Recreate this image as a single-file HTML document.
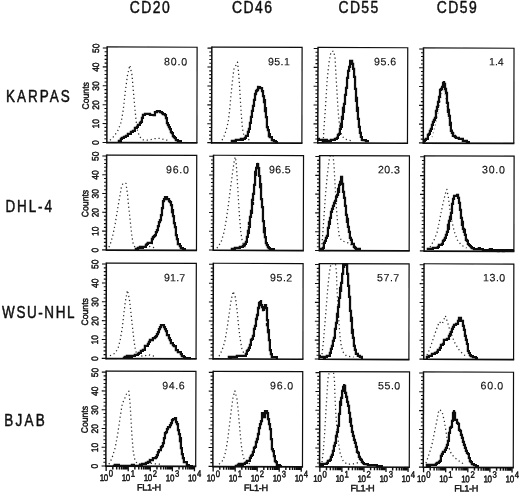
<!DOCTYPE html>
<html><head><meta charset="utf-8"><title>Figure</title>
<style>
html,body{margin:0;padding:0;background:#fff;}
body{width:520px;height:493px;position:relative;overflow:hidden;font-family:"Liberation Sans",sans-serif;}
</style></head><body>
<svg width="520" height="493" viewBox="0 0 520 493" style="position:absolute;left:0;top:0" font-family="'Liberation Sans', sans-serif" fill="#0d0d0d">
<rect x="0" y="0" width="520" height="493" fill="#fff"/>
<defs><filter id="soft" x="0" y="0" width="520" height="493" filterUnits="userSpaceOnUse"><feGaussianBlur stdDeviation="0.32"/></filter></defs>
<g filter="url(#soft)">
<text transform="translate(129.8 13.4) scale(0.93 1.055)" font-size="15" textLength="43.0" lengthAdjust="spacing" stroke="#0d0d0d" stroke-width="0.42" stroke-linejoin="round">CD20</text>
<text transform="translate(232.0 13.4) scale(0.93 1.055)" font-size="15" textLength="42.9" lengthAdjust="spacing" stroke="#0d0d0d" stroke-width="0.42" stroke-linejoin="round">CD46</text>
<text transform="translate(338.5 13.4) scale(0.93 1.055)" font-size="15" textLength="42.7" lengthAdjust="spacing" stroke="#0d0d0d" stroke-width="0.42" stroke-linejoin="round">CD55</text>
<text transform="translate(436.7 13.4) scale(0.93 1.055)" font-size="15" textLength="43.0" lengthAdjust="spacing" stroke="#0d0d0d" stroke-width="0.42" stroke-linejoin="round">CD59</text>
<text transform="translate(5.9 102.1) scale(0.9 1.055)" font-size="15" textLength="71.0" lengthAdjust="spacing" stroke="#0d0d0d" stroke-width="0.42" stroke-linejoin="round">KARPAS</text>
<text transform="translate(5.5 212.0) scale(0.9 1.055)" font-size="15" textLength="51.6" lengthAdjust="spacing" stroke="#0d0d0d" stroke-width="0.42" stroke-linejoin="round">DHL-4</text>
<text transform="translate(2.1 317.7) scale(0.9 1.055)" font-size="15" textLength="80.4" lengthAdjust="spacing" stroke="#0d0d0d" stroke-width="0.42" stroke-linejoin="round">WSU-NHL</text>
<text transform="translate(4.3 426.4) scale(0.9 1.055)" font-size="15" textLength="45.0" lengthAdjust="spacing" stroke="#0d0d0d" stroke-width="0.42" stroke-linejoin="round">BJAB</text>
<g transform="rotate(0.16 152.0 95.0)">
<clipPath id="c00"><rect x="107.0" y="46.6" width="90.5" height="97.5"/></clipPath>
<polyline clip-path="url(#c00)" points="110.1,140.3 114.2,136.3 118.2,130.2 121.3,122.1 123.3,109.9 125.3,91.7 127.4,75.4 129.8,65.3 132.0,75.4 133.4,91.7 134.9,107.9 136.1,120.1 137.5,130.2 139.5,136.3 142.6,139.9 148.7,140.3 154.7,138.7 160.8,138.3 164.9,139.9 168.9,140.3" fill="none" stroke="#262626" stroke-width="1.25" stroke-dasharray="1.2 2.8" stroke-opacity="1" stroke-linejoin="round"/>
<polyline clip-path="url(#c00)" points="119.0,142.0 119.0,141.0 120.0,141.0 121.0,141.0 121.0,140.0 121.0,139.0 122.0,139.0 122.0,138.0 123.0,138.0 124.0,138.0 124.0,137.0 126.0,137.0 126.0,136.0 127.0,136.0 128.0,136.0 128.0,134.0 129.0,134.0 131.0,134.0 131.0,133.0 131.0,132.0 132.0,132.0 133.0,132.0 133.0,131.0 135.0,131.0 135.0,130.0 135.0,128.0 136.0,128.0 137.0,128.0 137.0,127.0 138.0,127.0 138.0,126.0 138.0,125.0 140.0,125.0 140.0,124.0 140.0,123.0 141.0,123.0 141.0,122.0 142.0,122.0 142.0,121.0 142.0,120.0 142.0,119.0 142.0,118.0 143.0,118.0 143.0,117.0 143.0,116.0 143.0,115.0 145.0,115.0 145.0,114.0 146.0,114.0 147.0,114.0 147.0,113.0 147.0,114.0 148.0,114.0 149.0,114.0 150.0,114.0 150.0,115.0 151.0,115.0 152.0,115.0 153.0,115.0 154.0,115.0 155.0,115.0 155.0,114.0 155.0,112.0 157.0,112.0 157.0,111.0 158.0,111.0 158.0,110.0 158.0,111.0 160.0,111.0 160.0,112.0 162.0,112.0 162.0,113.0 163.0,113.0 163.0,114.0 164.0,114.0 165.0,114.0 165.0,115.0 166.0,115.0 166.0,116.0 166.0,117.0 166.0,118.0 167.0,118.0 167.0,119.0 167.0,120.0 167.0,122.0 167.0,123.0 168.0,123.0 168.0,124.0 168.0,125.0 169.0,125.0 169.0,126.0 169.0,127.0 170.0,127.0 170.0,128.0 170.0,129.0 171.0,129.0 171.0,130.0 171.0,131.0 172.0,131.0 171.0,131.0 171.0,132.0 172.0,132.0 172.0,133.0 173.0,133.0 173.0,134.0 173.0,136.0 174.0,136.0 174.0,137.0 175.0,137.0 175.0,138.0 176.0,138.0 176.0,139.0 176.0,140.0 177.0,140.0 178.0,140.0 178.0,141.0 179.0,141.0 180.0,141.0 181.0,141.0" fill="none" stroke="#0d0d0d" stroke-width="2.25" stroke-linejoin="miter" stroke-linecap="square"/>
<path d="M107.0 47.1 H197.0 V142.8" fill="none" stroke="#0d0d0d" stroke-width="1.2"/>
<path d="M106.4 142.8 H197.6" fill="none" stroke="#0d0d0d" stroke-width="1.7"/>
<path d="M107.0 46.5 V143.4" fill="none" stroke="#0d0d0d" stroke-width="1.5"/>
<path d="M107.0 142.60h-4.3M107.0 138.82h-2.5M107.0 135.04h-2.5M107.0 131.27h-2.5M107.0 127.49h-2.5M107.0 123.71h-4.3M107.0 119.93h-2.5M107.0 116.15h-2.5M107.0 112.38h-2.5M107.0 108.60h-2.5M107.0 104.82h-4.3M107.0 101.04h-2.5M107.0 97.26h-2.5M107.0 93.49h-2.5M107.0 89.71h-2.5M107.0 85.93h-4.3M107.0 82.15h-2.5M107.0 78.37h-2.5M107.0 74.60h-2.5M107.0 70.82h-2.5M107.0 67.04h-4.3M107.0 63.26h-2.5M107.0 59.48h-2.5M107.0 55.71h-2.5M107.0 51.93h-2.5M107.0 48.15h-4.3" stroke="#0d0d0d" stroke-width="1.1" fill="none"/>
<text x="163.9" y="65.3" font-size="10.6" textLength="23.3" lengthAdjust="spacing" stroke="#0d0d0d" stroke-width="0.12">80.0</text>
<text transform="translate(99.0 142.9) rotate(-90) scale(0.95 1.06)" font-size="8.9" text-anchor="middle" stroke="#0d0d0d" stroke-width="0.42" stroke-linejoin="round">0</text>
<text transform="translate(99.0 124.0) rotate(-90) scale(0.95 1.06)" font-size="8.9" text-anchor="middle" stroke="#0d0d0d" stroke-width="0.42" stroke-linejoin="round">10</text>
<text transform="translate(99.0 105.1) rotate(-90) scale(0.95 1.06)" font-size="8.9" text-anchor="middle" stroke="#0d0d0d" stroke-width="0.42" stroke-linejoin="round">20</text>
<text transform="translate(99.0 86.2) rotate(-90) scale(0.95 1.06)" font-size="8.9" text-anchor="middle" stroke="#0d0d0d" stroke-width="0.42" stroke-linejoin="round">30</text>
<text transform="translate(99.0 67.3) rotate(-90) scale(0.95 1.06)" font-size="8.9" text-anchor="middle" stroke="#0d0d0d" stroke-width="0.42" stroke-linejoin="round">40</text>
<text transform="translate(99.0 48.5) rotate(-90) scale(0.95 1.06)" font-size="8.9" text-anchor="middle" stroke="#0d0d0d" stroke-width="0.42" stroke-linejoin="round">50</text>
<text transform="translate(88.8 96.0) rotate(-90) scale(0.97 1.04)" font-size="8.9" text-anchor="middle" stroke="#0d0d0d" stroke-width="0.42" stroke-linejoin="round">Counts</text>
</g>
<g transform="rotate(0.16 256.9 95.2)">
<clipPath id="c01"><rect x="211.7" y="46.8" width="90.8" height="97.5"/></clipPath>
<polyline clip-path="url(#c01)" points="222.2,140.3 224.2,136.3 226.3,130.2 228.3,122.1 229.7,109.9 230.9,95.7 232.4,81.5 233.8,69.3 237.4,62.2 238.4,71.4 239.5,85.6 240.5,101.8 241.5,116.0 242.5,128.2 243.9,135.3 246.6,138.7 250.6,140.3" fill="none" stroke="#262626" stroke-width="1.25" stroke-dasharray="1.2 2.8" stroke-opacity="1" stroke-linejoin="round"/>
<polyline clip-path="url(#c01)" points="232.0,141.0 234.0,141.0 234.0,140.0 234.0,141.0 236.0,141.0 236.0,140.0 237.0,140.0 238.0,140.0 239.0,140.0 241.0,140.0 241.0,139.0 242.0,139.0 242.0,140.0 243.0,140.0 243.0,139.0 245.0,139.0 245.0,138.0 246.0,138.0 246.0,137.0 246.0,136.0 247.0,136.0 248.0,136.0 248.0,134.0 248.0,133.0 248.0,132.0 249.0,132.0 249.0,131.0 249.0,129.0 250.0,129.0 250.0,128.0 250.0,127.0 250.0,126.0 250.0,125.0 250.0,124.0 250.0,123.0 251.0,123.0 251.0,122.0 251.0,121.0 251.0,120.0 251.0,119.0 251.0,118.0 251.0,117.0 252.0,117.0 252.0,116.0 252.0,115.0 252.0,114.0 252.0,113.0 252.0,111.0 253.0,111.0 253.0,110.0 253.0,109.0 253.0,107.0 253.0,106.0 254.0,106.0 254.0,105.0 254.0,104.0 254.0,103.0 254.0,102.0 254.0,101.0 254.0,100.0 255.0,100.0 255.0,99.0 255.0,98.0 255.0,96.0 255.0,94.0 256.0,94.0 256.0,93.0 256.0,91.0 257.0,91.0 257.0,90.0 258.0,90.0 258.0,89.0 258.0,87.0 260.0,87.0 260.0,88.0 261.0,88.0 262.0,88.0 262.0,90.0 262.0,91.0 263.0,91.0 263.0,92.0 263.0,93.0 263.0,95.0 263.0,96.0 264.0,96.0 264.0,98.0 264.0,99.0 264.0,100.0 265.0,100.0 265.0,101.0 264.0,101.0 264.0,102.0 265.0,102.0 265.0,104.0 265.0,105.0 265.0,106.0 265.0,107.0 265.0,108.0 266.0,108.0 266.0,109.0 265.0,109.0 265.0,110.0 265.0,111.0 266.0,111.0 266.0,112.0 266.0,113.0 266.0,114.0 266.0,115.0 266.0,116.0 266.0,117.0 267.0,117.0 267.0,118.0 267.0,119.0 267.0,120.0 267.0,121.0 267.0,122.0 267.0,123.0 267.0,124.0 267.0,125.0 267.0,127.0 268.0,127.0 267.0,127.0 268.0,127.0 268.0,128.0 268.0,129.0 268.0,130.0 269.0,130.0 269.0,131.0 269.0,132.0 269.0,133.0 269.0,134.0 270.0,134.0 270.0,135.0 269.0,135.0 269.0,136.0 270.0,136.0 270.0,137.0 272.0,137.0 272.0,138.0 272.0,140.0 273.0,140.0 274.0,140.0 274.0,141.0 275.0,141.0 276.0,141.0 276.0,142.0 277.0,142.0" fill="none" stroke="#0d0d0d" stroke-width="2.25" stroke-linejoin="miter" stroke-linecap="square"/>
<path d="M211.7 47.3 H302.0 V143.0" fill="none" stroke="#0d0d0d" stroke-width="1.2"/>
<path d="M211.1 143.0 H302.6" fill="none" stroke="#0d0d0d" stroke-width="1.7"/>
<path d="M211.7 46.7 V143.6" fill="none" stroke="#0d0d0d" stroke-width="1.5"/>
<path d="M211.7 142.80h-4.3M211.7 139.02h-2.5M211.7 135.24h-2.5M211.7 131.46h-2.5M211.7 127.68h-2.5M211.7 123.90h-4.3M211.7 120.12h-2.5M211.7 116.34h-2.5M211.7 112.56h-2.5M211.7 108.78h-2.5M211.7 105.00h-4.3M211.7 101.22h-2.5M211.7 97.44h-2.5M211.7 93.66h-2.5M211.7 89.88h-2.5M211.7 86.10h-4.3M211.7 82.32h-2.5M211.7 78.54h-2.5M211.7 74.76h-2.5M211.7 70.98h-2.5M211.7 67.20h-4.3M211.7 63.42h-2.5M211.7 59.64h-2.5M211.7 55.86h-2.5M211.7 52.08h-2.5M211.7 48.30h-4.3" stroke="#0d0d0d" stroke-width="1.1" fill="none"/>
<text x="267.9" y="65.3" font-size="10.6" textLength="21.9" lengthAdjust="spacing" stroke="#0d0d0d" stroke-width="0.12">95.1</text>
</g>
<g transform="rotate(0.16 362.8 95.4)">
<clipPath id="c02"><rect x="317.9" y="47.1" width="90.2" height="97.2"/></clipPath>
<polyline clip-path="url(#c02)" points="323.5,138.3 324.2,126.1 325.2,111.9 326.2,95.7 327.2,79.5 328.8,63.3 330.8,52.1 333.3,51.1 334.9,57.2 335.7,71.4 336.7,87.6 337.7,103.8 338.8,118.0 340.0,128.2 341.8,135.3 344.4,138.7 348.5,140.3 353.6,140.9" fill="none" stroke="#262626" stroke-width="1.25" stroke-dasharray="1.2 2.8" stroke-opacity="1" stroke-linejoin="round"/>
<polyline clip-path="url(#c02)" points="318.0,139.0 319.0,139.0 319.0,140.0 320.0,140.0 321.0,140.0 322.0,140.0 323.0,140.0 323.0,141.0 324.0,141.0 325.0,141.0 325.0,140.0 326.0,140.0 327.0,140.0 327.0,141.0 328.0,141.0 329.0,141.0 330.0,141.0 330.0,140.0 330.0,141.0 331.0,141.0 331.0,140.0 332.0,140.0 333.0,140.0 335.0,140.0 335.0,139.0 336.0,139.0 337.0,139.0 337.0,138.0 338.0,138.0 338.0,137.0 338.0,136.0 338.0,135.0 339.0,135.0 339.0,134.0 340.0,134.0 340.0,133.0 340.0,132.0 340.0,131.0 340.0,130.0 340.0,129.0 341.0,129.0 341.0,127.0 342.0,127.0 342.0,126.0 342.0,125.0 341.0,125.0 341.0,124.0 342.0,124.0 342.0,123.0 342.0,122.0 342.0,121.0 342.0,120.0 342.0,119.0 343.0,119.0 343.0,118.0 342.0,118.0 342.0,117.0 343.0,117.0 343.0,116.0 343.0,115.0 343.0,114.0 343.0,113.0 343.0,112.0 344.0,112.0 344.0,111.0 344.0,110.0 343.0,110.0 343.0,109.0 343.0,108.0 344.0,108.0 344.0,107.0 344.0,105.0 344.0,104.0 345.0,104.0 345.0,103.0 345.0,102.0 345.0,101.0 345.0,100.0 345.0,98.0 345.0,96.0 345.0,95.0 346.0,95.0 346.0,94.0 346.0,93.0 346.0,92.0 346.0,91.0 346.0,90.0 347.0,90.0 346.0,90.0 346.0,89.0 346.0,88.0 347.0,88.0 347.0,86.0 347.0,84.0 347.0,83.0 347.0,82.0 347.0,81.0 347.0,80.0 347.0,79.0 347.0,78.0 348.0,78.0 348.0,76.0 348.0,75.0 348.0,74.0 348.0,73.0 348.0,71.0 349.0,71.0 349.0,70.0 349.0,69.0 349.0,68.0 349.0,67.0 350.0,67.0 350.0,66.0 350.0,65.0 350.0,64.0 350.0,63.0 350.0,62.0 350.0,61.0 351.0,61.0 351.0,60.0 351.0,61.0 352.0,61.0 352.0,62.0 352.0,63.0 352.0,64.0 353.0,64.0 353.0,65.0 353.0,67.0 353.0,68.0 353.0,69.0 354.0,69.0 354.0,71.0 354.0,72.0 354.0,73.0 354.0,74.0 354.0,76.0 354.0,77.0 355.0,77.0 355.0,78.0 355.0,79.0 354.0,79.0 355.0,79.0 355.0,81.0 355.0,83.0 355.0,84.0 355.0,85.0 355.0,86.0 355.0,87.0 355.0,89.0 356.0,89.0 356.0,90.0 355.0,90.0 356.0,90.0 356.0,91.0 356.0,93.0 356.0,94.0 356.0,95.0 356.0,96.0 356.0,97.0 356.0,98.0 357.0,98.0 357.0,99.0 356.0,99.0 356.0,100.0 356.0,101.0 357.0,101.0 357.0,102.0 357.0,103.0 357.0,104.0 357.0,106.0 357.0,107.0 357.0,108.0 358.0,108.0 358.0,109.0 358.0,110.0 357.0,110.0 357.0,111.0 358.0,111.0 358.0,112.0 358.0,113.0 358.0,114.0 358.0,115.0 358.0,116.0 358.0,117.0 358.0,118.0 358.0,119.0 359.0,119.0 359.0,120.0 359.0,121.0 359.0,122.0 359.0,123.0 359.0,124.0 359.0,125.0 359.0,126.0 359.0,127.0 360.0,127.0 360.0,129.0 360.0,131.0 360.0,132.0 360.0,133.0 361.0,133.0 361.0,134.0 361.0,135.0 361.0,137.0 362.0,137.0 362.0,138.0 362.0,140.0 363.0,140.0 364.0,140.0 365.0,140.0 366.0,140.0 366.0,141.0 367.0,141.0 368.0,141.0" fill="none" stroke="#0d0d0d" stroke-width="2.25" stroke-linejoin="miter" stroke-linecap="square"/>
<path d="M317.9 47.6 H407.6 V143.1" fill="none" stroke="#0d0d0d" stroke-width="1.2"/>
<path d="M317.3 143.1 H408.2" fill="none" stroke="#0d0d0d" stroke-width="1.7"/>
<path d="M317.9 47.0 V143.7" fill="none" stroke="#0d0d0d" stroke-width="1.5"/>
<path d="M317.9 142.90h-4.3M317.9 139.13h-2.5M317.9 135.36h-2.5M317.9 131.59h-2.5M317.9 127.82h-2.5M317.9 124.05h-4.3M317.9 120.28h-2.5M317.9 116.51h-2.5M317.9 112.74h-2.5M317.9 108.97h-2.5M317.9 105.20h-4.3M317.9 101.43h-2.5M317.9 97.66h-2.5M317.9 93.89h-2.5M317.9 90.12h-2.5M317.9 86.35h-4.3M317.9 82.58h-2.5M317.9 78.81h-2.5M317.9 75.04h-2.5M317.9 71.27h-2.5M317.9 67.50h-4.3M317.9 63.73h-2.5M317.9 59.96h-2.5M317.9 56.19h-2.5M317.9 52.42h-2.5M317.9 48.65h-4.3" stroke="#0d0d0d" stroke-width="1.1" fill="none"/>
<text x="373.9" y="65.3" font-size="10.6" textLength="22.3" lengthAdjust="spacing" stroke="#0d0d0d" stroke-width="0.12">95.6</text>
</g>
<g transform="rotate(0.16 468.6 95.7)">
<clipPath id="c03"><rect x="423.4" y="47.6" width="91.0" height="97.0"/></clipPath>
<polyline clip-path="url(#c03)" points="432.2,137.3 435.2,126.1 438.3,111.9 440.7,97.7 442.7,88.6 444.8,91.7 446.4,103.8 448.4,116.0 450.5,126.1 452.9,131.2 456.5,136.3" fill="none" stroke="#262626" stroke-width="1.25" stroke-dasharray="1.2 2.8" stroke-opacity="0.5" stroke-linejoin="round"/>
<polyline clip-path="url(#c03)" points="424.0,142.0 424.0,141.0 425.0,141.0 425.0,140.0 426.0,140.0 426.0,139.0 427.0,139.0 428.0,139.0 428.0,137.0 428.0,136.0 428.0,135.0 429.0,135.0 429.0,134.0 430.0,134.0 430.0,133.0 430.0,131.0 431.0,131.0 431.0,129.0 432.0,129.0 432.0,127.0 432.0,126.0 432.0,125.0 433.0,125.0 433.0,124.0 433.0,123.0 433.0,122.0 434.0,122.0 434.0,121.0 434.0,120.0 435.0,120.0 435.0,119.0 435.0,118.0 436.0,118.0 436.0,117.0 436.0,116.0 436.0,115.0 436.0,114.0 436.0,113.0 436.0,112.0 436.0,111.0 437.0,111.0 437.0,110.0 437.0,109.0 437.0,108.0 437.0,107.0 438.0,107.0 438.0,105.0 437.0,105.0 438.0,105.0 438.0,104.0 438.0,103.0 438.0,102.0 439.0,102.0 439.0,101.0 439.0,100.0 439.0,99.0 439.0,98.0 439.0,97.0 440.0,97.0 440.0,95.0 440.0,93.0 440.0,92.0 440.0,90.0 441.0,90.0 441.0,89.0 442.0,89.0 442.0,87.0 443.0,87.0 443.0,86.0 443.0,84.0 443.0,83.0 444.0,83.0 444.0,81.0 444.0,82.0 444.0,84.0 445.0,84.0 445.0,85.0 445.0,87.0 445.0,89.0 446.0,89.0 446.0,90.0 446.0,91.0 446.0,92.0 446.0,93.0 447.0,93.0 447.0,95.0 447.0,96.0 446.0,96.0 447.0,96.0 447.0,97.0 447.0,98.0 447.0,99.0 447.0,100.0 447.0,101.0 447.0,103.0 448.0,103.0 448.0,104.0 448.0,105.0 448.0,106.0 448.0,107.0 448.0,108.0 448.0,109.0 448.0,110.0 449.0,110.0 449.0,111.0 448.0,111.0 448.0,112.0 449.0,112.0 449.0,113.0 449.0,114.0 449.0,115.0 449.0,116.0 450.0,116.0 450.0,117.0 450.0,118.0 450.0,119.0 450.0,120.0 450.0,121.0 450.0,122.0 450.0,123.0 451.0,123.0 451.0,124.0 450.0,124.0 450.0,125.0 451.0,125.0 451.0,126.0 451.0,127.0 451.0,128.0 451.0,129.0 451.0,131.0 452.0,131.0 452.0,132.0 452.0,133.0 453.0,133.0 453.0,134.0 453.0,135.0 453.0,136.0 454.0,136.0 455.0,136.0 455.0,137.0 456.0,137.0 456.0,138.0 458.0,138.0 459.0,138.0 459.0,139.0 461.0,139.0 462.0,139.0 463.0,139.0 463.0,140.0 463.0,141.0 464.0,141.0 465.0,141.0 466.0,141.0 466.0,142.0 466.0,141.0 467.0,141.0 467.0,142.0 468.0,142.0 469.0,142.0" fill="none" stroke="#0d0d0d" stroke-width="2.25" stroke-linejoin="miter" stroke-linecap="square"/>
<path d="M423.4 48.1 H513.9 V143.2" fill="none" stroke="#0d0d0d" stroke-width="1.2"/>
<path d="M422.8 143.2 H514.5" fill="none" stroke="#0d0d0d" stroke-width="1.7"/>
<path d="M423.4 47.5 V143.8" fill="none" stroke="#0d0d0d" stroke-width="1.5"/>
<path d="M423.4 143.05h-4.3M423.4 139.29h-2.5M423.4 135.53h-2.5M423.4 131.78h-2.5M423.4 128.02h-2.5M423.4 124.26h-4.3M423.4 120.50h-2.5M423.4 116.74h-2.5M423.4 112.99h-2.5M423.4 109.23h-2.5M423.4 105.47h-4.3M423.4 101.71h-2.5M423.4 97.95h-2.5M423.4 94.20h-2.5M423.4 90.44h-2.5M423.4 86.68h-4.3M423.4 82.92h-2.5M423.4 79.16h-2.5M423.4 75.41h-2.5M423.4 71.65h-2.5M423.4 67.89h-4.3M423.4 64.13h-2.5M423.4 60.37h-2.5M423.4 56.62h-2.5M423.4 52.86h-2.5M423.4 49.10h-4.3" stroke="#0d0d0d" stroke-width="1.1" fill="none"/>
<text x="489.0" y="65.3" font-size="10.6" textLength="14.6" lengthAdjust="spacing" stroke="#0d0d0d" stroke-width="0.12">1.4</text>
</g>
<g transform="rotate(0.16 151.6 202.7)">
<clipPath id="c10"><rect x="106.5" y="154.7" width="90.6" height="96.8"/></clipPath>
<polyline clip-path="url(#c10)" points="109.1,247.3 111.1,242.2 113.2,234.1 115.2,224.0 117.2,211.8 119.2,199.7 121.3,187.5 122.9,183.4 125.9,183.4 127.4,193.6 128.8,207.8 130.4,222.0 132.0,236.2 133.4,244.3 135.5,247.9 142.6,247.9 148.7,246.3 152.7,247.3 156.8,248.3" fill="none" stroke="#262626" stroke-width="1.25" stroke-dasharray="1.2 2.8" stroke-opacity="1" stroke-linejoin="round"/>
<polyline clip-path="url(#c10)" points="136.0,249.0 137.0,249.0 137.0,248.0 137.0,249.0 138.0,249.0 138.0,248.0 140.0,248.0 140.0,247.0 141.0,247.0 141.0,248.0 143.0,248.0 143.0,247.0 145.0,247.0 146.0,247.0 146.0,246.0 146.0,245.0 147.0,245.0 147.0,244.0 148.0,244.0 148.0,243.0 150.0,243.0 151.0,243.0 152.0,243.0 152.0,241.0 152.0,240.0 152.0,239.0 153.0,239.0 153.0,238.0 153.0,237.0 154.0,237.0 154.0,236.0 155.0,236.0 155.0,235.0 156.0,235.0 156.0,234.0 156.0,233.0 156.0,232.0 157.0,232.0 157.0,231.0 157.0,230.0 158.0,230.0 158.0,229.0 158.0,228.0 158.0,227.0 158.0,226.0 159.0,226.0 159.0,225.0 159.0,224.0 159.0,223.0 159.0,222.0 160.0,222.0 160.0,221.0 160.0,220.0 161.0,220.0 161.0,219.0 161.0,217.0 161.0,216.0 161.0,215.0 162.0,215.0 162.0,214.0 162.0,213.0 162.0,212.0 162.0,211.0 162.0,210.0 162.0,209.0 162.0,208.0 163.0,208.0 163.0,207.0 163.0,205.0 163.0,204.0 164.0,204.0 163.0,204.0 163.0,202.0 163.0,201.0 164.0,201.0 164.0,199.0 165.0,199.0 165.0,198.0 165.0,197.0 166.0,197.0 167.0,197.0 167.0,199.0 169.0,199.0 169.0,200.0 169.0,201.0 170.0,201.0 170.0,202.0 171.0,202.0 171.0,204.0 171.0,205.0 172.0,205.0 172.0,206.0 172.0,208.0 172.0,210.0 173.0,210.0 173.0,211.0 172.0,211.0 172.0,212.0 173.0,212.0 173.0,214.0 173.0,215.0 173.0,216.0 174.0,216.0 174.0,217.0 173.0,217.0 174.0,217.0 174.0,218.0 174.0,219.0 174.0,220.0 174.0,221.0 174.0,222.0 174.0,223.0 175.0,223.0 175.0,224.0 175.0,225.0 175.0,226.0 175.0,227.0 176.0,227.0 176.0,228.0 176.0,229.0 176.0,230.0 176.0,231.0 176.0,232.0 176.0,233.0 176.0,234.0 177.0,234.0 176.0,234.0 176.0,235.0 177.0,235.0 177.0,236.0 177.0,238.0 177.0,239.0 178.0,239.0 178.0,240.0 178.0,241.0 178.0,242.0 178.0,244.0 179.0,244.0 180.0,244.0 180.0,246.0 181.0,246.0 181.0,248.0 182.0,248.0 183.0,248.0 183.0,249.0 184.0,249.0 185.0,249.0" fill="none" stroke="#0d0d0d" stroke-width="2.25" stroke-linejoin="miter" stroke-linecap="square"/>
<path d="M106.5 155.2 H196.6 V250.2" fill="none" stroke="#0d0d0d" stroke-width="1.2"/>
<path d="M105.9 250.2 H197.2" fill="none" stroke="#0d0d0d" stroke-width="1.7"/>
<path d="M106.5 154.6 V250.8" fill="none" stroke="#0d0d0d" stroke-width="1.5"/>
<path d="M106.5 250.00h-4.3M106.5 246.25h-2.5M106.5 242.49h-2.5M106.5 238.74h-2.5M106.5 234.98h-2.5M106.5 231.23h-4.3M106.5 227.48h-2.5M106.5 223.72h-2.5M106.5 219.97h-2.5M106.5 216.21h-2.5M106.5 212.46h-4.3M106.5 208.71h-2.5M106.5 204.95h-2.5M106.5 201.20h-2.5M106.5 197.44h-2.5M106.5 193.69h-4.3M106.5 189.94h-2.5M106.5 186.18h-2.5M106.5 182.43h-2.5M106.5 178.67h-2.5M106.5 174.92h-4.3M106.5 171.17h-2.5M106.5 167.41h-2.5M106.5 163.66h-2.5M106.5 159.90h-2.5M106.5 156.15h-4.3" stroke="#0d0d0d" stroke-width="1.1" fill="none"/>
<text x="165.9" y="173.3" font-size="10.6" textLength="22.9" lengthAdjust="spacing" stroke="#0d0d0d" stroke-width="0.12">96.0</text>
<text transform="translate(98.5 250.3) rotate(-90) scale(0.95 1.06)" font-size="8.9" text-anchor="middle" stroke="#0d0d0d" stroke-width="0.42" stroke-linejoin="round">0</text>
<text transform="translate(98.5 231.5) rotate(-90) scale(0.95 1.06)" font-size="8.9" text-anchor="middle" stroke="#0d0d0d" stroke-width="0.42" stroke-linejoin="round">10</text>
<text transform="translate(98.5 212.8) rotate(-90) scale(0.95 1.06)" font-size="8.9" text-anchor="middle" stroke="#0d0d0d" stroke-width="0.42" stroke-linejoin="round">20</text>
<text transform="translate(98.5 194.0) rotate(-90) scale(0.95 1.06)" font-size="8.9" text-anchor="middle" stroke="#0d0d0d" stroke-width="0.42" stroke-linejoin="round">30</text>
<text transform="translate(98.5 175.2) rotate(-90) scale(0.95 1.06)" font-size="8.9" text-anchor="middle" stroke="#0d0d0d" stroke-width="0.42" stroke-linejoin="round">40</text>
<text transform="translate(98.5 156.5) rotate(-90) scale(0.95 1.06)" font-size="8.9" text-anchor="middle" stroke="#0d0d0d" stroke-width="0.42" stroke-linejoin="round">50</text>
<text transform="translate(88.3 203.7) rotate(-90) scale(0.97 1.04)" font-size="8.9" text-anchor="middle" stroke="#0d0d0d" stroke-width="0.42" stroke-linejoin="round">Counts</text>
</g>
<g transform="rotate(0.16 258.4 202.9)">
<clipPath id="c11"><rect x="213.4" y="154.9" width="90.5" height="96.8"/></clipPath>
<polyline clip-path="url(#c11)" points="217.1,248.3 221.2,242.2 224.2,232.1 226.3,219.9 228.3,205.7 230.3,189.5 232.4,173.3 234.4,159.1 235.4,157.1 236.4,167.2 237.4,183.4 238.4,199.7 239.5,215.9 240.9,232.1 242.5,242.2 245.5,247.3" fill="none" stroke="#262626" stroke-width="1.25" stroke-dasharray="1.2 2.8" stroke-opacity="1" stroke-linejoin="round"/>
<polyline clip-path="url(#c11)" points="232.0,249.0 234.0,249.0 235.0,249.0 235.0,248.0 237.0,248.0 238.0,248.0 239.0,248.0 240.0,248.0 240.0,247.0 242.0,247.0 243.0,247.0 243.0,246.0 244.0,246.0 244.0,245.0 245.0,245.0 245.0,244.0 246.0,244.0 246.0,243.0 246.0,242.0 247.0,242.0 247.0,240.0 247.0,239.0 247.0,238.0 247.0,237.0 248.0,237.0 248.0,236.0 248.0,235.0 248.0,234.0 248.0,233.0 249.0,233.0 249.0,232.0 248.0,232.0 248.0,231.0 249.0,231.0 249.0,230.0 249.0,229.0 249.0,228.0 249.0,227.0 250.0,227.0 250.0,226.0 250.0,225.0 250.0,224.0 249.0,224.0 249.0,223.0 250.0,223.0 250.0,222.0 250.0,221.0 250.0,220.0 250.0,219.0 250.0,218.0 250.0,217.0 251.0,217.0 251.0,216.0 251.0,215.0 251.0,214.0 251.0,213.0 252.0,213.0 252.0,212.0 251.0,212.0 251.0,211.0 252.0,211.0 252.0,210.0 252.0,209.0 252.0,208.0 252.0,207.0 252.0,206.0 252.0,205.0 252.0,204.0 253.0,204.0 253.0,203.0 252.0,203.0 252.0,201.0 252.0,200.0 253.0,200.0 253.0,199.0 253.0,197.0 253.0,196.0 253.0,195.0 253.0,194.0 254.0,194.0 254.0,192.0 254.0,191.0 254.0,189.0 254.0,187.0 254.0,186.0 254.0,185.0 255.0,185.0 255.0,183.0 255.0,181.0 255.0,180.0 255.0,178.0 255.0,177.0 255.0,175.0 256.0,175.0 256.0,174.0 255.0,174.0 255.0,172.0 256.0,172.0 256.0,171.0 256.0,170.0 256.0,169.0 256.0,168.0 257.0,168.0 257.0,167.0 257.0,166.0 257.0,165.0 257.0,164.0 257.0,163.0 257.0,164.0 258.0,164.0 258.0,165.0 258.0,166.0 258.0,167.0 258.0,168.0 259.0,168.0 259.0,169.0 259.0,170.0 259.0,171.0 259.0,173.0 259.0,174.0 259.0,175.0 259.0,176.0 260.0,176.0 260.0,177.0 260.0,179.0 259.0,179.0 260.0,179.0 260.0,180.0 260.0,182.0 260.0,183.0 260.0,184.0 261.0,184.0 261.0,186.0 260.0,186.0 260.0,187.0 261.0,187.0 261.0,188.0 261.0,189.0 261.0,190.0 261.0,192.0 261.0,193.0 261.0,195.0 261.0,197.0 261.0,198.0 261.0,199.0 262.0,199.0 262.0,200.0 262.0,202.0 262.0,203.0 262.0,204.0 262.0,205.0 262.0,206.0 262.0,207.0 263.0,207.0 263.0,208.0 263.0,209.0 263.0,210.0 263.0,211.0 263.0,212.0 263.0,213.0 263.0,214.0 263.0,216.0 263.0,217.0 263.0,218.0 263.0,219.0 263.0,220.0 263.0,221.0 264.0,221.0 264.0,222.0 264.0,223.0 264.0,224.0 264.0,225.0 264.0,226.0 264.0,227.0 264.0,228.0 265.0,228.0 265.0,229.0 265.0,230.0 264.0,230.0 264.0,231.0 264.0,232.0 265.0,232.0 265.0,233.0 265.0,234.0 265.0,235.0 265.0,237.0 266.0,237.0 266.0,238.0 266.0,239.0 266.0,240.0 266.0,241.0 266.0,243.0 267.0,243.0 267.0,244.0 267.0,245.0 268.0,245.0 268.0,246.0 268.0,247.0 269.0,247.0 269.0,248.0 270.0,248.0 270.0,249.0 271.0,249.0 272.0,249.0 273.0,249.0 274.0,249.0" fill="none" stroke="#0d0d0d" stroke-width="2.25" stroke-linejoin="miter" stroke-linecap="square"/>
<path d="M213.4 155.4 H303.4 V250.4" fill="none" stroke="#0d0d0d" stroke-width="1.2"/>
<path d="M212.8 250.4 H304.0" fill="none" stroke="#0d0d0d" stroke-width="1.7"/>
<path d="M213.4 154.8 V251.0" fill="none" stroke="#0d0d0d" stroke-width="1.5"/>
<path d="M213.4 250.20h-4.3M213.4 246.45h-2.5M213.4 242.70h-2.5M213.4 238.95h-2.5M213.4 235.20h-2.5M213.4 231.45h-4.3M213.4 227.70h-2.5M213.4 223.95h-2.5M213.4 220.20h-2.5M213.4 216.45h-2.5M213.4 212.70h-4.3M213.4 208.95h-2.5M213.4 205.20h-2.5M213.4 201.45h-2.5M213.4 197.70h-2.5M213.4 193.95h-4.3M213.4 190.20h-2.5M213.4 186.45h-2.5M213.4 182.70h-2.5M213.4 178.95h-2.5M213.4 175.20h-4.3M213.4 171.45h-2.5M213.4 167.70h-2.5M213.4 163.95h-2.5M213.4 160.20h-2.5M213.4 156.45h-4.3" stroke="#0d0d0d" stroke-width="1.1" fill="none"/>
<text x="268.9" y="173.3" font-size="10.6" textLength="21.7" lengthAdjust="spacing" stroke="#0d0d0d" stroke-width="0.12">96.5</text>
</g>
<g transform="rotate(0.16 364.4 203.2)">
<clipPath id="c12"><rect x="319.5" y="155.2" width="90.3" height="96.9"/></clipPath>
<polyline clip-path="url(#c12)" points="322.1,244.3 323.1,230.1 324.2,213.9 325.6,193.6 327.2,175.3 328.8,161.1 330.2,155.4 332.9,155.4 333.9,165.2 334.7,179.4 335.7,195.6 336.7,211.8 337.9,226.0 339.4,236.2 341.4,240.2 345.5,242.2 349.5,243.3 352.6,246.3" fill="none" stroke="#262626" stroke-width="1.25" stroke-dasharray="1.2 2.8" stroke-opacity="1" stroke-linejoin="round"/>
<polyline clip-path="url(#c12)" points="319.0,249.0 320.0,249.0 322.0,249.0 323.0,249.0 323.0,248.0 324.0,248.0 324.0,247.0 324.0,246.0 324.0,245.0 324.0,243.0 325.0,243.0 325.0,241.0 326.0,241.0 326.0,240.0 326.0,239.0 326.0,238.0 327.0,238.0 327.0,237.0 327.0,236.0 328.0,236.0 328.0,234.0 327.0,234.0 328.0,234.0 328.0,232.0 327.0,232.0 328.0,232.0 328.0,231.0 328.0,230.0 328.0,229.0 328.0,228.0 329.0,228.0 329.0,227.0 329.0,226.0 329.0,225.0 329.0,224.0 330.0,224.0 330.0,223.0 329.0,223.0 329.0,222.0 330.0,222.0 330.0,221.0 330.0,220.0 330.0,219.0 330.0,218.0 331.0,218.0 331.0,217.0 331.0,216.0 331.0,215.0 331.0,214.0 331.0,213.0 331.0,212.0 332.0,212.0 332.0,211.0 332.0,210.0 332.0,209.0 333.0,209.0 333.0,208.0 333.0,207.0 333.0,206.0 334.0,206.0 334.0,205.0 334.0,204.0 334.0,203.0 335.0,203.0 335.0,202.0 335.0,201.0 336.0,201.0 336.0,200.0 336.0,199.0 336.0,197.0 337.0,197.0 337.0,196.0 337.0,195.0 338.0,195.0 337.0,195.0 338.0,195.0 338.0,193.0 338.0,192.0 339.0,192.0 339.0,191.0 338.0,191.0 338.0,189.0 339.0,189.0 339.0,188.0 339.0,186.0 339.0,185.0 340.0,185.0 340.0,183.0 340.0,182.0 341.0,182.0 341.0,181.0 341.0,180.0 341.0,179.0 341.0,177.0 342.0,177.0 342.0,178.0 342.0,179.0 342.0,181.0 342.0,182.0 342.0,183.0 342.0,184.0 343.0,184.0 343.0,185.0 343.0,186.0 343.0,187.0 343.0,188.0 343.0,190.0 344.0,190.0 343.0,190.0 343.0,192.0 344.0,192.0 344.0,193.0 344.0,194.0 344.0,195.0 344.0,196.0 344.0,198.0 345.0,198.0 345.0,200.0 345.0,201.0 345.0,202.0 345.0,203.0 345.0,204.0 345.0,205.0 345.0,206.0 346.0,206.0 346.0,207.0 346.0,208.0 346.0,209.0 347.0,209.0 346.0,209.0 346.0,211.0 346.0,212.0 346.0,213.0 346.0,214.0 346.0,215.0 347.0,215.0 347.0,216.0 347.0,217.0 347.0,218.0 347.0,219.0 348.0,219.0 348.0,220.0 347.0,220.0 347.0,221.0 347.0,222.0 348.0,222.0 348.0,223.0 348.0,224.0 348.0,225.0 349.0,225.0 348.0,225.0 348.0,226.0 348.0,227.0 349.0,227.0 349.0,228.0 349.0,229.0 349.0,230.0 349.0,231.0 349.0,232.0 350.0,232.0 350.0,233.0 350.0,234.0 350.0,235.0 350.0,236.0 350.0,237.0 351.0,237.0 350.0,237.0 350.0,238.0 351.0,238.0 351.0,240.0 352.0,240.0 352.0,241.0 352.0,243.0 352.0,244.0 353.0,244.0 354.0,244.0 354.0,246.0 354.0,247.0 355.0,247.0 355.0,248.0 356.0,248.0 356.0,249.0 357.0,249.0 359.0,249.0 360.0,249.0" fill="none" stroke="#0d0d0d" stroke-width="2.25" stroke-linejoin="miter" stroke-linecap="square"/>
<path d="M319.5 155.7 H409.3 V250.8" fill="none" stroke="#0d0d0d" stroke-width="1.2"/>
<path d="M318.9 250.8 H409.9" fill="none" stroke="#0d0d0d" stroke-width="1.7"/>
<path d="M319.5 155.1 V251.4" fill="none" stroke="#0d0d0d" stroke-width="1.5"/>
<path d="M319.5 250.60h-4.3M319.5 246.84h-2.5M319.5 243.09h-2.5M319.5 239.33h-2.5M319.5 235.58h-2.5M319.5 231.82h-4.3M319.5 228.06h-2.5M319.5 224.31h-2.5M319.5 220.55h-2.5M319.5 216.80h-2.5M319.5 213.04h-4.3M319.5 209.28h-2.5M319.5 205.53h-2.5M319.5 201.77h-2.5M319.5 198.02h-2.5M319.5 194.26h-4.3M319.5 190.50h-2.5M319.5 186.75h-2.5M319.5 182.99h-2.5M319.5 179.24h-2.5M319.5 175.48h-4.3M319.5 171.72h-2.5M319.5 167.97h-2.5M319.5 164.21h-2.5M319.5 160.46h-2.5M319.5 156.70h-4.3" stroke="#0d0d0d" stroke-width="1.1" fill="none"/>
<text x="377.9" y="173.3" font-size="10.6" textLength="21.9" lengthAdjust="spacing" stroke="#0d0d0d" stroke-width="0.12">20.3</text>
</g>
<g transform="rotate(0.16 469.1 203.6)">
<clipPath id="c13"><rect x="424.3" y="155.4" width="90.2" height="97.1"/></clipPath>
<polyline clip-path="url(#c13)" points="430.2,247.3 434.2,240.2 437.3,232.1 439.3,222.0 441.3,211.8 443.4,201.7 445.4,193.6 446.8,189.5 448.4,197.6 450.0,209.8 452.1,222.0 454.5,232.1 457.6,240.2 461.6,245.3 466.7,247.9" fill="none" stroke="#262626" stroke-width="1.25" stroke-dasharray="1.2 2.8" stroke-opacity="1" stroke-linejoin="round"/>
<polyline clip-path="url(#c13)" points="428.0,249.0 429.0,249.0 430.0,249.0 431.0,249.0 432.0,249.0 433.0,249.0 433.0,248.0 434.0,248.0 435.0,248.0 437.0,248.0 438.0,248.0 438.0,247.0 439.0,247.0 439.0,246.0 439.0,245.0 441.0,245.0 442.0,245.0 442.0,244.0 443.0,244.0 443.0,243.0 443.0,242.0 443.0,241.0 444.0,241.0 444.0,240.0 445.0,240.0 445.0,238.0 446.0,238.0 446.0,237.0 445.0,237.0 446.0,237.0 446.0,236.0 446.0,235.0 447.0,235.0 447.0,234.0 447.0,233.0 447.0,232.0 448.0,232.0 448.0,231.0 448.0,230.0 448.0,229.0 449.0,229.0 449.0,228.0 449.0,227.0 448.0,227.0 448.0,226.0 448.0,225.0 449.0,225.0 449.0,224.0 449.0,223.0 449.0,222.0 449.0,221.0 450.0,221.0 450.0,220.0 450.0,219.0 451.0,219.0 451.0,218.0 450.0,218.0 450.0,217.0 451.0,217.0 451.0,216.0 451.0,215.0 451.0,214.0 451.0,213.0 452.0,213.0 452.0,212.0 452.0,211.0 451.0,211.0 452.0,211.0 452.0,210.0 452.0,208.0 452.0,207.0 452.0,206.0 452.0,204.0 453.0,204.0 453.0,203.0 453.0,201.0 453.0,199.0 454.0,199.0 454.0,198.0 454.0,196.0 455.0,196.0 457.0,196.0 457.0,195.0 458.0,195.0 458.0,196.0 458.0,197.0 458.0,198.0 459.0,198.0 459.0,199.0 459.0,200.0 459.0,201.0 459.0,203.0 460.0,203.0 460.0,204.0 460.0,206.0 460.0,208.0 460.0,209.0 460.0,210.0 461.0,210.0 461.0,211.0 461.0,212.0 461.0,213.0 461.0,214.0 461.0,215.0 461.0,216.0 461.0,217.0 461.0,218.0 462.0,218.0 462.0,219.0 462.0,220.0 462.0,221.0 462.0,222.0 463.0,222.0 463.0,223.0 463.0,224.0 462.0,224.0 462.0,225.0 463.0,225.0 463.0,226.0 463.0,227.0 463.0,228.0 463.0,229.0 464.0,229.0 464.0,230.0 465.0,230.0 465.0,231.0 464.0,231.0 464.0,232.0 465.0,232.0 465.0,233.0 465.0,235.0 466.0,235.0 466.0,237.0 466.0,238.0 466.0,239.0 466.0,240.0 467.0,240.0 467.0,241.0 468.0,241.0 468.0,242.0 468.0,243.0 468.0,244.0 469.0,244.0 469.0,245.0 470.0,245.0 470.0,246.0 471.0,246.0 471.0,247.0 472.0,247.0 472.0,248.0 473.0,248.0 474.0,248.0 474.0,249.0 475.0,249.0 476.0,249.0 477.0,249.0 478.0,249.0 479.0,249.0 479.0,248.0 480.0,248.0 480.0,249.0 481.0,249.0 482.0,249.0 483.0,249.0 483.0,250.0 484.0,250.0 485.0,250.0 486.0,250.0 487.0,250.0 488.0,250.0 489.0,250.0 490.0,250.0 490.0,249.0 491.0,249.0 492.0,249.0 492.0,250.0 493.0,250.0 494.0,250.0 495.0,250.0 496.0,250.0 497.0,250.0 498.0,250.0 498.0,251.0 499.0,251.0 499.0,250.0 500.0,250.0 501.0,250.0 502.0,250.0 503.0,250.0 503.0,251.0 504.0,251.0 504.0,250.0 506.0,250.0 506.0,251.0 506.0,250.0 507.0,250.0 509.0,250.0 510.0,250.0 511.0,250.0 513.0,250.0" fill="none" stroke="#0d0d0d" stroke-width="2.25" stroke-linejoin="miter" stroke-linecap="square"/>
<path d="M424.3 155.9 H514.0 V251.2" fill="none" stroke="#0d0d0d" stroke-width="1.2"/>
<path d="M423.7 251.2 H514.6" fill="none" stroke="#0d0d0d" stroke-width="1.7"/>
<path d="M424.3 155.3 V251.8" fill="none" stroke="#0d0d0d" stroke-width="1.5"/>
<path d="M424.3 251.00h-4.3M424.3 247.24h-2.5M424.3 243.47h-2.5M424.3 239.71h-2.5M424.3 235.94h-2.5M424.3 232.18h-4.3M424.3 228.42h-2.5M424.3 224.65h-2.5M424.3 220.89h-2.5M424.3 217.12h-2.5M424.3 213.36h-4.3M424.3 209.60h-2.5M424.3 205.83h-2.5M424.3 202.07h-2.5M424.3 198.30h-2.5M424.3 194.54h-4.3M424.3 190.78h-2.5M424.3 187.01h-2.5M424.3 183.25h-2.5M424.3 179.48h-2.5M424.3 175.72h-4.3M424.3 171.96h-2.5M424.3 168.19h-2.5M424.3 164.43h-2.5M424.3 160.66h-2.5M424.3 156.90h-4.3" stroke="#0d0d0d" stroke-width="1.1" fill="none"/>
<text x="481.9" y="173.3" font-size="10.6" textLength="22.9" lengthAdjust="spacing" stroke="#0d0d0d" stroke-width="0.12">30.0</text>
</g>
<g transform="rotate(0.16 151.2 311.0)">
<clipPath id="c20"><rect x="106.2" y="262.7" width="90.5" height="97.4"/></clipPath>
<polyline clip-path="url(#c20)" points="110.1,355.9 115.2,353.3 118.2,348.2 120.3,340.1 122.3,327.9 123.9,313.7 125.3,301.6 127.4,290.4 129.4,299.5 130.8,311.7 132.4,325.9 134.0,340.1 135.5,350.2 137.5,355.3 143.6,356.3 148.7,354.7 154.7,356.3" fill="none" stroke="#262626" stroke-width="1.25" stroke-dasharray="1.2 2.8" stroke-opacity="1" stroke-linejoin="round"/>
<polyline clip-path="url(#c20)" points="124.0,358.0 125.0,358.0 125.0,357.0 126.0,357.0 127.0,357.0 127.0,356.0 128.0,356.0 129.0,356.0 129.0,357.0 130.0,357.0 130.0,356.0 131.0,356.0 131.0,357.0 132.0,357.0 132.0,356.0 134.0,356.0 135.0,356.0 135.0,355.0 136.0,355.0 138.0,355.0 138.0,354.0 139.0,354.0 139.0,353.0 141.0,353.0 141.0,352.0 141.0,351.0 143.0,351.0 143.0,350.0 144.0,350.0 145.0,350.0 145.0,348.0 145.0,347.0 145.0,346.0 147.0,346.0 148.0,346.0 148.0,345.0 148.0,344.0 149.0,344.0 149.0,343.0 149.0,342.0 150.0,342.0 150.0,341.0 150.0,340.0 151.0,340.0 153.0,340.0 153.0,339.0 153.0,338.0 155.0,338.0 155.0,337.0 156.0,337.0 156.0,336.0 157.0,336.0 157.0,335.0 157.0,334.0 158.0,334.0 158.0,333.0 158.0,332.0 159.0,332.0 159.0,331.0 159.0,330.0 159.0,329.0 160.0,329.0 160.0,328.0 160.0,327.0 161.0,327.0 161.0,326.0 161.0,325.0 163.0,325.0 164.0,325.0 164.0,327.0 165.0,327.0 165.0,328.0 165.0,329.0 166.0,329.0 166.0,330.0 166.0,331.0 167.0,331.0 167.0,332.0 167.0,333.0 167.0,334.0 167.0,335.0 168.0,335.0 169.0,335.0 169.0,336.0 169.0,337.0 169.0,338.0 170.0,338.0 170.0,339.0 170.0,340.0 171.0,340.0 171.0,341.0 171.0,343.0 172.0,343.0 173.0,343.0 173.0,344.0 173.0,345.0 174.0,345.0 174.0,346.0 175.0,346.0 176.0,346.0 176.0,347.0 176.0,348.0 176.0,350.0 177.0,350.0 178.0,350.0 178.0,352.0 179.0,352.0 180.0,352.0 181.0,352.0 181.0,353.0 181.0,354.0 182.0,354.0 182.0,356.0 183.0,356.0 184.0,356.0 184.0,357.0 185.0,357.0 185.0,358.0 186.0,358.0 187.0,358.0 188.0,358.0 190.0,358.0" fill="none" stroke="#0d0d0d" stroke-width="2.25" stroke-linejoin="miter" stroke-linecap="square"/>
<path d="M106.2 263.2 H196.2 V358.8" fill="none" stroke="#0d0d0d" stroke-width="1.2"/>
<path d="M105.6 358.8 H196.8" fill="none" stroke="#0d0d0d" stroke-width="1.7"/>
<path d="M106.2 262.6 V359.4" fill="none" stroke="#0d0d0d" stroke-width="1.5"/>
<path d="M106.2 358.55h-4.3M106.2 354.78h-2.5M106.2 351.00h-2.5M106.2 347.23h-2.5M106.2 343.45h-2.5M106.2 339.68h-4.3M106.2 335.91h-2.5M106.2 332.13h-2.5M106.2 328.36h-2.5M106.2 324.58h-2.5M106.2 320.81h-4.3M106.2 317.04h-2.5M106.2 313.26h-2.5M106.2 309.49h-2.5M106.2 305.71h-2.5M106.2 301.94h-4.3M106.2 298.17h-2.5M106.2 294.39h-2.5M106.2 290.62h-2.5M106.2 286.84h-2.5M106.2 283.07h-4.3M106.2 279.30h-2.5M106.2 275.52h-2.5M106.2 271.75h-2.5M106.2 267.97h-2.5M106.2 264.20h-4.3" stroke="#0d0d0d" stroke-width="1.1" fill="none"/>
<text x="163.9" y="281.3" font-size="10.6" textLength="21.3" lengthAdjust="spacing" stroke="#0d0d0d" stroke-width="0.12">91.7</text>
<text transform="translate(98.2 358.9) rotate(-90) scale(0.95 1.06)" font-size="8.9" text-anchor="middle" stroke="#0d0d0d" stroke-width="0.42" stroke-linejoin="round">0</text>
<text transform="translate(98.2 340.0) rotate(-90) scale(0.95 1.06)" font-size="8.9" text-anchor="middle" stroke="#0d0d0d" stroke-width="0.42" stroke-linejoin="round">10</text>
<text transform="translate(98.2 321.1) rotate(-90) scale(0.95 1.06)" font-size="8.9" text-anchor="middle" stroke="#0d0d0d" stroke-width="0.42" stroke-linejoin="round">20</text>
<text transform="translate(98.2 302.2) rotate(-90) scale(0.95 1.06)" font-size="8.9" text-anchor="middle" stroke="#0d0d0d" stroke-width="0.42" stroke-linejoin="round">30</text>
<text transform="translate(98.2 283.4) rotate(-90) scale(0.95 1.06)" font-size="8.9" text-anchor="middle" stroke="#0d0d0d" stroke-width="0.42" stroke-linejoin="round">40</text>
<text transform="translate(98.2 264.5) rotate(-90) scale(0.95 1.06)" font-size="8.9" text-anchor="middle" stroke="#0d0d0d" stroke-width="0.42" stroke-linejoin="round">50</text>
<text transform="translate(88.0 312.0) rotate(-90) scale(0.97 1.04)" font-size="8.9" text-anchor="middle" stroke="#0d0d0d" stroke-width="0.42" stroke-linejoin="round">Counts</text>
</g>
<g transform="rotate(0.16 258.1 311.2)">
<clipPath id="c21"><rect x="213.2" y="262.9" width="90.3" height="97.4"/></clipPath>
<polyline clip-path="url(#c21)" points="219.2,356.3 222.2,350.2 224.8,342.1 226.9,330.0 228.9,315.8 230.9,301.6 233.0,291.4 235.4,297.5 237.0,309.7 238.4,323.9 240.1,338.1 241.9,348.2 243.9,353.3 246.6,355.9" fill="none" stroke="#262626" stroke-width="1.25" stroke-dasharray="1.2 2.8" stroke-opacity="1" stroke-linejoin="round"/>
<polyline clip-path="url(#c21)" points="229.0,357.0 230.0,357.0 230.0,358.0 231.0,358.0 231.0,357.0 232.0,357.0 233.0,357.0 235.0,357.0 236.0,357.0 236.0,356.0 236.0,357.0 237.0,357.0 237.0,356.0 239.0,356.0 241.0,356.0 242.0,356.0 243.0,356.0 244.0,356.0 246.0,356.0 246.0,355.0 246.0,354.0 247.0,354.0 247.0,352.0 247.0,351.0 248.0,351.0 248.0,350.0 249.0,350.0 249.0,349.0 249.0,348.0 250.0,348.0 250.0,347.0 250.0,346.0 250.0,345.0 251.0,345.0 251.0,343.0 251.0,342.0 251.0,340.0 252.0,340.0 252.0,339.0 253.0,339.0 253.0,338.0 252.0,338.0 253.0,338.0 253.0,337.0 253.0,336.0 254.0,336.0 254.0,335.0 254.0,334.0 254.0,333.0 254.0,332.0 254.0,331.0 254.0,330.0 254.0,329.0 255.0,329.0 255.0,328.0 255.0,327.0 255.0,326.0 256.0,326.0 256.0,325.0 256.0,324.0 256.0,323.0 256.0,322.0 256.0,321.0 256.0,319.0 257.0,319.0 257.0,318.0 257.0,316.0 257.0,315.0 258.0,315.0 258.0,314.0 258.0,312.0 257.0,312.0 258.0,312.0 258.0,310.0 258.0,309.0 258.0,308.0 259.0,308.0 259.0,307.0 259.0,305.0 259.0,304.0 259.0,303.0 260.0,303.0 260.0,302.0 261.0,302.0 261.0,300.0 261.0,302.0 261.0,303.0 261.0,304.0 261.0,305.0 262.0,305.0 262.0,306.0 262.0,307.0 263.0,307.0 263.0,309.0 263.0,310.0 264.0,310.0 264.0,311.0 264.0,310.0 264.0,308.0 265.0,308.0 265.0,306.0 265.0,305.0 266.0,305.0 266.0,306.0 266.0,308.0 267.0,308.0 267.0,310.0 267.0,312.0 267.0,313.0 267.0,315.0 267.0,316.0 267.0,318.0 267.0,319.0 268.0,319.0 267.0,319.0 267.0,320.0 268.0,320.0 268.0,321.0 268.0,322.0 268.0,323.0 268.0,324.0 267.0,324.0 267.0,325.0 268.0,325.0 268.0,326.0 268.0,327.0 268.0,328.0 268.0,329.0 268.0,330.0 269.0,330.0 269.0,331.0 268.0,331.0 268.0,332.0 269.0,332.0 269.0,333.0 269.0,334.0 269.0,335.0 269.0,336.0 269.0,337.0 269.0,338.0 269.0,339.0 269.0,340.0 270.0,340.0 270.0,341.0 270.0,342.0 270.0,343.0 270.0,345.0 270.0,346.0 270.0,347.0 270.0,349.0 270.0,350.0 271.0,350.0 271.0,351.0 271.0,352.0 271.0,354.0 272.0,354.0 272.0,355.0 272.0,357.0 273.0,357.0 274.0,357.0 275.0,357.0 276.0,357.0 277.0,357.0 277.0,358.0" fill="none" stroke="#0d0d0d" stroke-width="2.25" stroke-linejoin="miter" stroke-linecap="square"/>
<path d="M213.2 263.4 H303.0 V359.1" fill="none" stroke="#0d0d0d" stroke-width="1.2"/>
<path d="M212.6 359.1 H303.6" fill="none" stroke="#0d0d0d" stroke-width="1.7"/>
<path d="M213.2 262.8 V359.7" fill="none" stroke="#0d0d0d" stroke-width="1.5"/>
<path d="M213.2 358.85h-4.3M213.2 355.07h-2.5M213.2 351.30h-2.5M213.2 347.52h-2.5M213.2 343.75h-2.5M213.2 339.97h-4.3M213.2 336.19h-2.5M213.2 332.42h-2.5M213.2 328.64h-2.5M213.2 324.87h-2.5M213.2 321.09h-4.3M213.2 317.31h-2.5M213.2 313.54h-2.5M213.2 309.76h-2.5M213.2 305.99h-2.5M213.2 302.21h-4.3M213.2 298.43h-2.5M213.2 294.66h-2.5M213.2 290.88h-2.5M213.2 287.11h-2.5M213.2 283.33h-4.3M213.2 279.55h-2.5M213.2 275.78h-2.5M213.2 272.00h-2.5M213.2 268.23h-2.5M213.2 264.45h-4.3" stroke="#0d0d0d" stroke-width="1.1" fill="none"/>
<text x="269.9" y="281.3" font-size="10.6" textLength="22.3" lengthAdjust="spacing" stroke="#0d0d0d" stroke-width="0.12">95.2</text>
</g>
<g transform="rotate(0.16 364.1 311.5)">
<clipPath id="c22"><rect x="319.2" y="263.2" width="90.3" height="97.5"/></clipPath>
<polyline clip-path="url(#c22)" points="322.1,354.3 323.5,342.1 324.8,325.9 326.2,307.7 327.6,289.4 329.2,273.2 330.8,263.8 335.3,263.8 336.3,271.1 336.9,287.4 337.7,303.6 338.8,319.8 340.0,336.1 341.4,346.2 343.4,352.3 346.5,355.9 353.6,357.1" fill="none" stroke="#262626" stroke-width="1.25" stroke-dasharray="1.2 2.8" stroke-opacity="1" stroke-linejoin="round"/>
<polyline clip-path="url(#c22)" points="319.0,356.0 320.0,356.0 320.0,357.0 321.0,357.0 322.0,357.0 323.0,357.0 324.0,357.0 324.0,358.0 325.0,358.0 325.0,357.0 326.0,357.0 327.0,357.0 327.0,356.0 328.0,356.0 330.0,356.0 330.0,354.0 330.0,353.0 331.0,353.0 331.0,352.0 331.0,351.0 331.0,350.0 331.0,349.0 332.0,349.0 332.0,348.0 332.0,347.0 332.0,346.0 333.0,346.0 333.0,345.0 333.0,344.0 333.0,343.0 333.0,342.0 333.0,341.0 334.0,341.0 334.0,339.0 334.0,338.0 335.0,338.0 335.0,337.0 335.0,336.0 335.0,335.0 335.0,334.0 335.0,333.0 335.0,332.0 335.0,331.0 335.0,330.0 335.0,329.0 336.0,329.0 336.0,328.0 336.0,327.0 336.0,326.0 336.0,325.0 336.0,324.0 336.0,323.0 337.0,323.0 337.0,322.0 337.0,321.0 337.0,319.0 337.0,317.0 338.0,317.0 338.0,316.0 337.0,316.0 337.0,315.0 337.0,314.0 338.0,314.0 338.0,313.0 338.0,311.0 338.0,310.0 338.0,309.0 338.0,308.0 338.0,307.0 339.0,307.0 339.0,306.0 339.0,305.0 338.0,305.0 339.0,305.0 339.0,304.0 339.0,302.0 339.0,300.0 339.0,299.0 339.0,298.0 340.0,298.0 340.0,297.0 340.0,296.0 340.0,295.0 340.0,293.0 340.0,291.0 341.0,291.0 341.0,290.0 340.0,290.0 340.0,288.0 341.0,288.0 341.0,287.0 341.0,286.0 341.0,284.0 341.0,283.0 342.0,283.0 342.0,281.0 342.0,280.0 342.0,279.0 342.0,278.0 342.0,276.0 343.0,276.0 342.0,276.0 342.0,274.0 343.0,274.0 343.0,273.0 343.0,272.0 343.0,271.0 343.0,269.0 343.0,268.0 343.0,267.0 344.0,267.0 344.0,265.0 343.0,265.0 343.0,264.0 344.0,264.0 345.0,264.0 345.0,265.0 346.0,265.0 346.0,264.0 347.0,264.0 347.0,266.0 347.0,268.0 347.0,269.0 347.0,270.0 347.0,271.0 347.0,272.0 347.0,273.0 347.0,274.0 348.0,274.0 348.0,276.0 348.0,277.0 348.0,278.0 348.0,279.0 348.0,281.0 348.0,283.0 349.0,283.0 348.0,283.0 348.0,284.0 348.0,286.0 349.0,286.0 349.0,287.0 349.0,288.0 349.0,289.0 349.0,290.0 349.0,291.0 349.0,292.0 349.0,294.0 349.0,295.0 349.0,297.0 350.0,297.0 350.0,298.0 350.0,299.0 350.0,301.0 350.0,303.0 350.0,304.0 350.0,306.0 350.0,307.0 350.0,308.0 350.0,310.0 350.0,311.0 351.0,311.0 351.0,312.0 351.0,314.0 351.0,315.0 351.0,316.0 351.0,318.0 352.0,318.0 352.0,319.0 351.0,319.0 351.0,320.0 352.0,320.0 351.0,320.0 351.0,321.0 352.0,321.0 352.0,323.0 352.0,325.0 352.0,326.0 352.0,327.0 352.0,328.0 352.0,329.0 352.0,330.0 353.0,330.0 353.0,331.0 352.0,331.0 352.0,332.0 352.0,333.0 353.0,333.0 353.0,334.0 353.0,335.0 353.0,336.0 353.0,337.0 353.0,338.0 354.0,338.0 354.0,339.0 354.0,340.0 354.0,341.0 354.0,342.0 354.0,343.0 354.0,344.0 354.0,345.0 354.0,346.0 355.0,346.0 355.0,347.0 355.0,349.0 356.0,349.0 355.0,349.0 355.0,350.0 356.0,350.0 356.0,351.0 356.0,352.0 356.0,354.0 357.0,354.0 358.0,354.0 358.0,355.0 358.0,356.0 360.0,356.0 360.0,357.0 362.0,357.0 362.0,358.0" fill="none" stroke="#0d0d0d" stroke-width="2.25" stroke-linejoin="miter" stroke-linecap="square"/>
<path d="M319.2 263.7 H409.0 V359.4" fill="none" stroke="#0d0d0d" stroke-width="1.2"/>
<path d="M318.6 359.4 H409.6" fill="none" stroke="#0d0d0d" stroke-width="1.7"/>
<path d="M319.2 263.1 V360.0" fill="none" stroke="#0d0d0d" stroke-width="1.5"/>
<path d="M319.2 359.15h-4.3M319.2 355.37h-2.5M319.2 351.59h-2.5M319.2 347.82h-2.5M319.2 344.04h-2.5M319.2 340.26h-4.3M319.2 336.48h-2.5M319.2 332.70h-2.5M319.2 328.93h-2.5M319.2 325.15h-2.5M319.2 321.37h-4.3M319.2 317.59h-2.5M319.2 313.81h-2.5M319.2 310.04h-2.5M319.2 306.26h-2.5M319.2 302.48h-4.3M319.2 298.70h-2.5M319.2 294.92h-2.5M319.2 291.15h-2.5M319.2 287.37h-2.5M319.2 283.59h-4.3M319.2 279.81h-2.5M319.2 276.03h-2.5M319.2 272.26h-2.5M319.2 268.48h-2.5M319.2 264.70h-4.3" stroke="#0d0d0d" stroke-width="1.1" fill="none"/>
<text x="376.9" y="281.3" font-size="10.6" textLength="22.3" lengthAdjust="spacing" stroke="#0d0d0d" stroke-width="0.12">57.7</text>
</g>
<g transform="rotate(0.16 468.8 311.7)">
<clipPath id="c23"><rect x="423.9" y="263.4" width="90.3" height="97.3"/></clipPath>
<polyline clip-path="url(#c23)" points="427.1,355.3 430.2,348.2 433.2,339.1 436.3,330.0 439.3,321.9 442.3,323.9 445.4,315.8 447.4,321.9 450.5,332.0 454.5,342.1 458.6,349.2 463.6,354.7 467.7,356.7" fill="none" stroke="#262626" stroke-width="1.25" stroke-dasharray="1.2 2.8" stroke-opacity="1" stroke-linejoin="round"/>
<polyline clip-path="url(#c23)" points="427.0,358.0 427.0,357.0 428.0,357.0 429.0,357.0 429.0,356.0 430.0,356.0 431.0,356.0 432.0,356.0 432.0,354.0 433.0,354.0 435.0,354.0 435.0,353.0 436.0,353.0 437.0,353.0 437.0,352.0 438.0,352.0 438.0,351.0 438.0,350.0 439.0,350.0 440.0,350.0 440.0,349.0 440.0,348.0 441.0,348.0 441.0,346.0 441.0,345.0 442.0,345.0 443.0,345.0 443.0,344.0 444.0,344.0 444.0,343.0 444.0,342.0 444.0,340.0 445.0,340.0 447.0,340.0 447.0,339.0 449.0,339.0 449.0,338.0 449.0,337.0 449.0,336.0 450.0,336.0 450.0,335.0 450.0,334.0 451.0,334.0 451.0,333.0 451.0,332.0 452.0,332.0 452.0,331.0 452.0,330.0 452.0,329.0 453.0,329.0 453.0,328.0 453.0,327.0 454.0,327.0 454.0,326.0 454.0,325.0 455.0,325.0 456.0,325.0 456.0,324.0 458.0,324.0 458.0,323.0 458.0,322.0 458.0,321.0 459.0,321.0 459.0,320.0 459.0,319.0 459.0,318.0 460.0,318.0 461.0,318.0 461.0,319.0 461.0,321.0 463.0,321.0 463.0,322.0 463.0,323.0 463.0,324.0 463.0,325.0 463.0,326.0 464.0,326.0 464.0,327.0 464.0,328.0 464.0,329.0 464.0,330.0 465.0,330.0 465.0,331.0 465.0,332.0 465.0,333.0 465.0,334.0 465.0,335.0 465.0,336.0 466.0,336.0 466.0,337.0 466.0,338.0 466.0,339.0 466.0,340.0 467.0,340.0 467.0,341.0 467.0,342.0 467.0,344.0 468.0,344.0 468.0,346.0 468.0,347.0 468.0,348.0 468.0,349.0 468.0,351.0 469.0,351.0 469.0,352.0 469.0,353.0 470.0,353.0 470.0,355.0 471.0,355.0 471.0,356.0 473.0,356.0 473.0,357.0 474.0,357.0 475.0,357.0 476.0,357.0 476.0,358.0 477.0,358.0" fill="none" stroke="#0d0d0d" stroke-width="2.25" stroke-linejoin="miter" stroke-linecap="square"/>
<path d="M423.9 263.9 H513.7 V359.4" fill="none" stroke="#0d0d0d" stroke-width="1.2"/>
<path d="M423.3 359.4 H514.3" fill="none" stroke="#0d0d0d" stroke-width="1.7"/>
<path d="M423.9 263.3 V360.1" fill="none" stroke="#0d0d0d" stroke-width="1.5"/>
<path d="M423.9 359.25h-4.3M423.9 355.48h-2.5M423.9 351.71h-2.5M423.9 347.93h-2.5M423.9 344.16h-2.5M423.9 340.39h-4.3M423.9 336.62h-2.5M423.9 332.85h-2.5M423.9 329.07h-2.5M423.9 325.30h-2.5M423.9 321.53h-4.3M423.9 317.76h-2.5M423.9 313.99h-2.5M423.9 310.21h-2.5M423.9 306.44h-2.5M423.9 302.67h-4.3M423.9 298.90h-2.5M423.9 295.13h-2.5M423.9 291.35h-2.5M423.9 287.58h-2.5M423.9 283.81h-4.3M423.9 280.04h-2.5M423.9 276.27h-2.5M423.9 272.49h-2.5M423.9 268.72h-2.5M423.9 264.95h-4.3" stroke="#0d0d0d" stroke-width="1.1" fill="none"/>
<text x="482.9" y="281.3" font-size="10.6" textLength="22.3" lengthAdjust="spacing" stroke="#0d0d0d" stroke-width="0.12">13.0</text>
</g>
<g transform="rotate(0.16 150.9 418.8)">
<clipPath id="c30"><rect x="106.0" y="370.8" width="90.3" height="96.8"/></clipPath>
<polyline clip-path="url(#c30)" points="109.1,464.3 112.1,458.2 115.2,448.1 117.8,433.9 119.8,419.7 122.3,403.5 124.3,399.4 126.7,393.3 128.8,391.3 130.0,403.5 131.0,419.7 132.0,435.9 133.4,452.2 135.1,460.3 137.5,463.9 143.6,464.3 148.7,462.7 154.7,463.9 162.9,464.3" fill="none" stroke="#262626" stroke-width="1.25" stroke-dasharray="1.2 2.8" stroke-opacity="1" stroke-linejoin="round"/>
<polyline clip-path="url(#c30)" points="114.0,466.0 115.0,466.0 115.0,465.0 116.0,465.0 117.0,465.0 118.0,465.0 119.0,465.0 119.0,466.0 120.0,466.0 121.0,466.0 122.0,466.0 123.0,466.0 125.0,466.0 126.0,466.0 128.0,466.0 129.0,466.0 130.0,466.0 132.0,466.0 132.0,465.0 133.0,465.0 134.0,465.0 134.0,466.0 135.0,466.0 137.0,466.0 138.0,466.0 139.0,466.0 140.0,466.0 140.0,465.0 142.0,465.0 142.0,464.0 143.0,464.0 144.0,464.0 146.0,464.0 146.0,463.0 147.0,463.0 148.0,463.0 148.0,462.0 150.0,462.0 150.0,461.0 150.0,460.0 152.0,460.0 153.0,460.0 153.0,459.0 153.0,458.0 155.0,458.0 156.0,458.0 156.0,457.0 157.0,457.0 157.0,456.0 157.0,455.0 158.0,455.0 158.0,453.0 158.0,452.0 159.0,452.0 159.0,451.0 159.0,450.0 160.0,450.0 161.0,450.0 161.0,448.0 161.0,447.0 162.0,447.0 162.0,446.0 163.0,446.0 163.0,445.0 163.0,444.0 163.0,443.0 164.0,443.0 164.0,442.0 164.0,441.0 164.0,440.0 164.0,439.0 164.0,438.0 165.0,438.0 165.0,437.0 165.0,436.0 165.0,435.0 165.0,433.0 166.0,433.0 166.0,432.0 167.0,432.0 167.0,431.0 167.0,430.0 167.0,429.0 168.0,429.0 168.0,428.0 168.0,427.0 169.0,427.0 170.0,427.0 170.0,426.0 170.0,425.0 171.0,425.0 171.0,423.0 172.0,423.0 172.0,422.0 172.0,420.0 173.0,420.0 173.0,419.0 175.0,419.0 175.0,418.0 176.0,418.0 176.0,420.0 176.0,421.0 176.0,422.0 177.0,422.0 177.0,424.0 178.0,424.0 178.0,425.0 178.0,426.0 178.0,427.0 178.0,428.0 178.0,429.0 178.0,430.0 179.0,430.0 179.0,431.0 179.0,432.0 179.0,433.0 179.0,434.0 180.0,434.0 180.0,435.0 180.0,436.0 180.0,437.0 180.0,438.0 181.0,438.0 181.0,439.0 181.0,440.0 180.0,440.0 180.0,441.0 181.0,441.0 181.0,442.0 181.0,443.0 181.0,444.0 181.0,445.0 181.0,447.0 181.0,448.0 182.0,448.0 182.0,449.0 182.0,450.0 182.0,451.0 182.0,453.0 182.0,454.0 183.0,454.0 183.0,455.0 183.0,456.0 183.0,458.0 184.0,458.0 184.0,459.0 184.0,460.0 184.0,462.0 185.0,462.0 186.0,462.0 187.0,462.0 187.0,463.0 187.0,465.0 188.0,465.0 189.0,465.0 189.0,466.0 190.0,466.0 191.0,466.0 192.0,466.0" fill="none" stroke="#0d0d0d" stroke-width="2.25" stroke-linejoin="miter" stroke-linecap="square"/>
<path d="M106.0 371.3 H195.8 V466.3" fill="none" stroke="#0d0d0d" stroke-width="1.2"/>
<path d="M105.4 466.3 H196.4" fill="none" stroke="#0d0d0d" stroke-width="1.7"/>
<path d="M106.0 370.7 V466.9" fill="none" stroke="#0d0d0d" stroke-width="1.5"/>
<path d="M106.0 466.10h-4.3M106.0 462.35h-2.5M106.0 458.60h-2.5M106.0 454.84h-2.5M106.0 451.09h-2.5M106.0 447.34h-4.3M106.0 443.59h-2.5M106.0 439.84h-2.5M106.0 436.08h-2.5M106.0 432.33h-2.5M106.0 428.58h-4.3M106.0 424.83h-2.5M106.0 421.08h-2.5M106.0 417.32h-2.5M106.0 413.57h-2.5M106.0 409.82h-4.3M106.0 406.07h-2.5M106.0 402.32h-2.5M106.0 398.56h-2.5M106.0 394.81h-2.5M106.0 391.06h-4.3M106.0 387.31h-2.5M106.0 383.56h-2.5M106.0 379.80h-2.5M106.0 376.05h-2.5M106.0 372.30h-4.3" stroke="#0d0d0d" stroke-width="1.1" fill="none"/>
<text x="162.2" y="389.3" font-size="10.6" textLength="22.5" lengthAdjust="spacing" stroke="#0d0d0d" stroke-width="0.12">94.6</text>
<text transform="translate(98.0 466.4) rotate(-90) scale(0.95 1.06)" font-size="8.9" text-anchor="middle" stroke="#0d0d0d" stroke-width="0.42" stroke-linejoin="round">0</text>
<text transform="translate(98.0 447.6) rotate(-90) scale(0.95 1.06)" font-size="8.9" text-anchor="middle" stroke="#0d0d0d" stroke-width="0.42" stroke-linejoin="round">10</text>
<text transform="translate(98.0 428.9) rotate(-90) scale(0.95 1.06)" font-size="8.9" text-anchor="middle" stroke="#0d0d0d" stroke-width="0.42" stroke-linejoin="round">20</text>
<text transform="translate(98.0 410.1) rotate(-90) scale(0.95 1.06)" font-size="8.9" text-anchor="middle" stroke="#0d0d0d" stroke-width="0.42" stroke-linejoin="round">30</text>
<text transform="translate(98.0 391.4) rotate(-90) scale(0.95 1.06)" font-size="8.9" text-anchor="middle" stroke="#0d0d0d" stroke-width="0.42" stroke-linejoin="round">40</text>
<text transform="translate(98.0 372.6) rotate(-90) scale(0.95 1.06)" font-size="8.9" text-anchor="middle" stroke="#0d0d0d" stroke-width="0.42" stroke-linejoin="round">50</text>
<text transform="translate(87.8 419.8) rotate(-90) scale(0.97 1.04)" font-size="8.9" text-anchor="middle" stroke="#0d0d0d" stroke-width="0.42" stroke-linejoin="round">Counts</text>
<text transform="translate(108.0 481.1) scale(0.9 1.08)" font-size="8.9" text-anchor="end" letter-spacing="-0.4" stroke="#0d0d0d" stroke-width="0.42" stroke-linejoin="round">10</text>
<text transform="translate(108.9 476.7) scale(0.88 1.08)" font-size="8.7" stroke="#0d0d0d" stroke-width="0.42" stroke-linejoin="round">0</text>
<text transform="translate(130.1 481.1) scale(0.9 1.08)" font-size="8.9" text-anchor="end" letter-spacing="-0.4" stroke="#0d0d0d" stroke-width="0.42" stroke-linejoin="round">10</text>
<text transform="translate(131.0 476.7) scale(0.88 1.08)" font-size="8.7" stroke="#0d0d0d" stroke-width="0.42" stroke-linejoin="round">1</text>
<text transform="translate(152.1 481.1) scale(0.9 1.08)" font-size="8.9" text-anchor="end" letter-spacing="-0.4" stroke="#0d0d0d" stroke-width="0.42" stroke-linejoin="round">10</text>
<text transform="translate(153.0 476.7) scale(0.88 1.08)" font-size="8.7" stroke="#0d0d0d" stroke-width="0.42" stroke-linejoin="round">2</text>
<text transform="translate(174.2 481.1) scale(0.9 1.08)" font-size="8.9" text-anchor="end" letter-spacing="-0.4" stroke="#0d0d0d" stroke-width="0.42" stroke-linejoin="round">10</text>
<text transform="translate(175.1 476.7) scale(0.88 1.08)" font-size="8.7" stroke="#0d0d0d" stroke-width="0.42" stroke-linejoin="round">3</text>
<text transform="translate(196.3 481.1) scale(0.9 1.08)" font-size="8.9" text-anchor="end" letter-spacing="-0.4" stroke="#0d0d0d" stroke-width="0.42" stroke-linejoin="round">10</text>
<text transform="translate(197.2 476.7) scale(0.88 1.08)" font-size="8.7" stroke="#0d0d0d" stroke-width="0.42" stroke-linejoin="round">4</text>
<path d="M106.30 466.3v4.9M128.38 466.3v4.9M150.45 466.3v4.9M172.53 466.3v4.9M194.60 466.3v4.9" stroke="#0d0d0d" stroke-width="1.3" fill="none"/>
<path d="M112.95 466.3v3.2M116.83 466.3v3.2M119.59 466.3v3.2M121.73 466.3v3.2M123.48 466.3v3.2M124.96 466.3v3.2M126.24 466.3v3.2M127.36 466.3v3.2M135.02 466.3v3.2M138.91 466.3v3.2M141.67 466.3v3.2M143.80 466.3v3.2M145.55 466.3v3.2M147.03 466.3v3.2M148.31 466.3v3.2M149.44 466.3v3.2M157.10 466.3v3.2M160.98 466.3v3.2M163.74 466.3v3.2M165.88 466.3v3.2M167.63 466.3v3.2M169.11 466.3v3.2M170.39 466.3v3.2M171.51 466.3v3.2M179.17 466.3v3.2M183.06 466.3v3.2M185.82 466.3v3.2M187.95 466.3v3.2M189.70 466.3v3.2M191.18 466.3v3.2M192.46 466.3v3.2M193.59 466.3v3.2" stroke="#0d0d0d" stroke-width="1.45" fill="none"/>
<text x="149.0" y="490.5" font-size="9.2" text-anchor="middle" letter-spacing="-0.35" stroke="#0d0d0d" stroke-width="0.42" stroke-linejoin="round">FL1-H</text>
</g>
<g transform="rotate(0.16 257.8 419.1)">
<clipPath id="c31"><rect x="213.0" y="371.0" width="90.1" height="97.0"/></clipPath>
<polyline clip-path="url(#c31)" points="219.2,464.3 223.2,460.3 225.7,452.2 227.7,440.0 229.7,423.8 231.3,409.6 233.0,397.4 234.8,390.9 237.0,399.4 238.4,413.6 239.9,429.9 241.5,446.1 243.1,456.2 245.1,461.3 247.6,463.3 252.6,463.9" fill="none" stroke="#262626" stroke-width="1.25" stroke-dasharray="1.2 2.8" stroke-opacity="1" stroke-linejoin="round"/>
<polyline clip-path="url(#c31)" points="236.0,466.0 238.0,466.0 238.0,465.0 239.0,465.0 239.0,464.0 241.0,464.0 241.0,465.0 242.0,465.0 243.0,465.0 243.0,464.0 245.0,464.0 245.0,463.0 246.0,463.0 247.0,463.0 247.0,462.0 247.0,461.0 249.0,461.0 250.0,461.0 250.0,459.0 250.0,458.0 251.0,458.0 251.0,456.0 252.0,456.0 252.0,455.0 253.0,455.0 253.0,454.0 253.0,453.0 253.0,452.0 254.0,452.0 254.0,451.0 254.0,450.0 254.0,449.0 254.0,448.0 255.0,448.0 255.0,447.0 256.0,447.0 256.0,446.0 256.0,445.0 256.0,444.0 256.0,443.0 256.0,442.0 257.0,442.0 257.0,441.0 257.0,440.0 257.0,439.0 258.0,439.0 258.0,438.0 258.0,437.0 258.0,436.0 258.0,435.0 258.0,434.0 259.0,434.0 259.0,433.0 259.0,432.0 258.0,432.0 259.0,432.0 259.0,430.0 259.0,429.0 259.0,428.0 260.0,428.0 260.0,427.0 260.0,426.0 260.0,424.0 261.0,424.0 261.0,423.0 261.0,422.0 261.0,421.0 262.0,421.0 262.0,420.0 262.0,419.0 262.0,418.0 262.0,416.0 262.0,415.0 262.0,414.0 262.0,413.0 263.0,413.0 263.0,414.0 264.0,414.0 264.0,415.0 264.0,417.0 265.0,417.0 265.0,416.0 265.0,414.0 265.0,413.0 265.0,411.0 266.0,411.0 266.0,410.0 266.0,411.0 267.0,411.0 267.0,412.0 267.0,413.0 268.0,413.0 268.0,415.0 268.0,416.0 268.0,417.0 268.0,418.0 268.0,419.0 269.0,419.0 269.0,420.0 269.0,421.0 269.0,422.0 269.0,424.0 270.0,424.0 270.0,425.0 270.0,426.0 270.0,427.0 270.0,429.0 271.0,429.0 271.0,430.0 271.0,431.0 271.0,432.0 271.0,433.0 271.0,434.0 271.0,435.0 271.0,436.0 271.0,437.0 271.0,438.0 271.0,439.0 272.0,439.0 272.0,440.0 272.0,441.0 272.0,442.0 272.0,443.0 272.0,444.0 272.0,445.0 272.0,446.0 272.0,447.0 272.0,448.0 272.0,449.0 273.0,449.0 273.0,450.0 273.0,451.0 274.0,451.0 274.0,452.0 274.0,453.0 274.0,454.0 274.0,455.0 274.0,456.0 275.0,456.0 275.0,457.0 275.0,458.0 275.0,459.0 275.0,461.0 276.0,461.0 276.0,462.0 277.0,462.0 277.0,464.0 277.0,465.0 278.0,465.0 279.0,465.0 280.0,465.0 280.0,466.0 281.0,466.0" fill="none" stroke="#0d0d0d" stroke-width="2.25" stroke-linejoin="miter" stroke-linecap="square"/>
<path d="M213.0 371.5 H302.6 V466.7" fill="none" stroke="#0d0d0d" stroke-width="1.2"/>
<path d="M212.4 466.7 H303.2" fill="none" stroke="#0d0d0d" stroke-width="1.7"/>
<path d="M213.0 370.9 V467.3" fill="none" stroke="#0d0d0d" stroke-width="1.5"/>
<path d="M213.0 466.50h-4.3M213.0 462.74h-2.5M213.0 458.98h-2.5M213.0 455.22h-2.5M213.0 451.46h-2.5M213.0 447.70h-4.3M213.0 443.94h-2.5M213.0 440.18h-2.5M213.0 436.42h-2.5M213.0 432.66h-2.5M213.0 428.90h-4.3M213.0 425.14h-2.5M213.0 421.38h-2.5M213.0 417.62h-2.5M213.0 413.86h-2.5M213.0 410.10h-4.3M213.0 406.34h-2.5M213.0 402.58h-2.5M213.0 398.82h-2.5M213.0 395.06h-2.5M213.0 391.30h-4.3M213.0 387.54h-2.5M213.0 383.78h-2.5M213.0 380.02h-2.5M213.0 376.26h-2.5M213.0 372.50h-4.3" stroke="#0d0d0d" stroke-width="1.1" fill="none"/>
<text x="269.9" y="389.3" font-size="10.6" textLength="23.3" lengthAdjust="spacing" stroke="#0d0d0d" stroke-width="0.12">96.0</text>
<text transform="translate(215.0 481.5) scale(0.9 1.08)" font-size="8.9" text-anchor="end" letter-spacing="-0.4" stroke="#0d0d0d" stroke-width="0.42" stroke-linejoin="round">10</text>
<text transform="translate(215.9 477.1) scale(0.88 1.08)" font-size="8.7" stroke="#0d0d0d" stroke-width="0.42" stroke-linejoin="round">0</text>
<text transform="translate(237.0 481.5) scale(0.9 1.08)" font-size="8.9" text-anchor="end" letter-spacing="-0.4" stroke="#0d0d0d" stroke-width="0.42" stroke-linejoin="round">10</text>
<text transform="translate(237.9 477.1) scale(0.88 1.08)" font-size="8.7" stroke="#0d0d0d" stroke-width="0.42" stroke-linejoin="round">1</text>
<text transform="translate(259.1 481.5) scale(0.9 1.08)" font-size="8.9" text-anchor="end" letter-spacing="-0.4" stroke="#0d0d0d" stroke-width="0.42" stroke-linejoin="round">10</text>
<text transform="translate(260.0 477.1) scale(0.88 1.08)" font-size="8.7" stroke="#0d0d0d" stroke-width="0.42" stroke-linejoin="round">2</text>
<text transform="translate(281.1 481.5) scale(0.9 1.08)" font-size="8.9" text-anchor="end" letter-spacing="-0.4" stroke="#0d0d0d" stroke-width="0.42" stroke-linejoin="round">10</text>
<text transform="translate(282.0 477.1) scale(0.88 1.08)" font-size="8.7" stroke="#0d0d0d" stroke-width="0.42" stroke-linejoin="round">3</text>
<text transform="translate(303.1 481.5) scale(0.9 1.08)" font-size="8.9" text-anchor="end" letter-spacing="-0.4" stroke="#0d0d0d" stroke-width="0.42" stroke-linejoin="round">10</text>
<text transform="translate(304.0 477.1) scale(0.88 1.08)" font-size="8.7" stroke="#0d0d0d" stroke-width="0.42" stroke-linejoin="round">4</text>
<path d="M213.30 466.7v4.9M235.33 466.7v4.9M257.35 466.7v4.9M279.38 466.7v4.9M301.40 466.7v4.9" stroke="#0d0d0d" stroke-width="1.3" fill="none"/>
<path d="M219.93 466.7v3.2M223.81 466.7v3.2M226.56 466.7v3.2M228.69 466.7v3.2M230.44 466.7v3.2M231.91 466.7v3.2M233.19 466.7v3.2M234.32 466.7v3.2M241.96 466.7v3.2M245.83 466.7v3.2M248.59 466.7v3.2M250.72 466.7v3.2M252.46 466.7v3.2M253.94 466.7v3.2M255.22 466.7v3.2M256.34 466.7v3.2M263.98 466.7v3.2M267.86 466.7v3.2M270.61 466.7v3.2M272.74 466.7v3.2M274.49 466.7v3.2M275.96 466.7v3.2M277.24 466.7v3.2M278.37 466.7v3.2M286.01 466.7v3.2M289.88 466.7v3.2M292.64 466.7v3.2M294.77 466.7v3.2M296.51 466.7v3.2M297.99 466.7v3.2M299.27 466.7v3.2M300.39 466.7v3.2" stroke="#0d0d0d" stroke-width="1.45" fill="none"/>
<text x="256.0" y="490.9" font-size="9.2" text-anchor="middle" letter-spacing="-0.35" stroke="#0d0d0d" stroke-width="0.42" stroke-linejoin="round">FL1-H</text>
</g>
<g transform="rotate(0.16 364.5 419.4)">
<clipPath id="c32"><rect x="319.7" y="371.2" width="90.2" height="97.2"/></clipPath>
<polyline clip-path="url(#c32)" points="322.1,462.3 323.5,450.1 324.8,431.9 325.8,413.6 326.8,395.4 327.8,379.1 329.2,371.8 333.3,371.8 334.3,379.1 334.9,395.4 335.7,411.6 336.9,427.8 338.4,442.0 340.4,454.2 343.4,461.3 347.5,464.3 353.6,463.9 359.7,462.3" fill="none" stroke="#262626" stroke-width="1.25" stroke-dasharray="1.2 2.8" stroke-opacity="1" stroke-linejoin="round"/>
<polyline clip-path="url(#c32)" points="318.0,462.0 319.0,462.0 319.0,463.0 319.0,464.0 320.0,464.0 321.0,464.0 321.0,465.0 322.0,465.0 323.0,465.0 323.0,464.0 324.0,464.0 325.0,464.0 326.0,464.0 327.0,464.0 327.0,463.0 328.0,463.0 328.0,462.0 328.0,461.0 330.0,461.0 330.0,460.0 331.0,460.0 331.0,459.0 331.0,458.0 331.0,457.0 332.0,457.0 332.0,456.0 332.0,455.0 333.0,455.0 333.0,454.0 333.0,453.0 333.0,452.0 333.0,451.0 334.0,451.0 334.0,450.0 333.0,450.0 334.0,450.0 334.0,449.0 334.0,448.0 334.0,447.0 334.0,446.0 335.0,446.0 335.0,445.0 335.0,444.0 335.0,443.0 336.0,443.0 336.0,442.0 336.0,441.0 336.0,440.0 336.0,439.0 336.0,438.0 336.0,437.0 336.0,436.0 337.0,436.0 337.0,435.0 337.0,434.0 337.0,433.0 337.0,432.0 338.0,432.0 338.0,431.0 338.0,430.0 338.0,429.0 338.0,428.0 338.0,427.0 338.0,426.0 339.0,426.0 339.0,425.0 339.0,424.0 339.0,423.0 339.0,422.0 339.0,421.0 339.0,420.0 339.0,418.0 339.0,416.0 339.0,415.0 339.0,414.0 340.0,414.0 340.0,412.0 340.0,411.0 340.0,410.0 340.0,408.0 341.0,408.0 340.0,408.0 340.0,406.0 340.0,405.0 341.0,405.0 341.0,404.0 340.0,404.0 340.0,402.0 341.0,402.0 341.0,401.0 341.0,399.0 342.0,399.0 341.0,399.0 341.0,398.0 342.0,398.0 342.0,397.0 342.0,396.0 342.0,395.0 342.0,394.0 342.0,393.0 342.0,392.0 342.0,391.0 343.0,391.0 343.0,389.0 343.0,387.0 344.0,387.0 344.0,386.0 344.0,385.0 344.0,384.0 344.0,385.0 344.0,386.0 345.0,386.0 345.0,387.0 345.0,389.0 345.0,390.0 345.0,391.0 345.0,393.0 346.0,393.0 346.0,394.0 346.0,396.0 346.0,397.0 347.0,397.0 347.0,399.0 347.0,401.0 347.0,402.0 348.0,402.0 348.0,403.0 348.0,404.0 348.0,405.0 348.0,406.0 349.0,406.0 349.0,407.0 349.0,409.0 349.0,410.0 349.0,411.0 349.0,412.0 349.0,413.0 350.0,413.0 350.0,415.0 350.0,416.0 350.0,417.0 350.0,418.0 350.0,419.0 351.0,419.0 351.0,420.0 351.0,421.0 350.0,421.0 350.0,422.0 351.0,422.0 351.0,424.0 351.0,426.0 352.0,426.0 352.0,427.0 352.0,428.0 352.0,429.0 352.0,430.0 352.0,431.0 352.0,432.0 353.0,432.0 353.0,433.0 353.0,434.0 353.0,435.0 353.0,436.0 354.0,436.0 354.0,437.0 354.0,438.0 354.0,439.0 354.0,440.0 355.0,440.0 355.0,441.0 355.0,442.0 355.0,443.0 356.0,443.0 356.0,444.0 356.0,445.0 356.0,446.0 356.0,447.0 357.0,447.0 357.0,448.0 357.0,449.0 357.0,450.0 357.0,452.0 358.0,452.0 358.0,453.0 359.0,453.0 359.0,454.0 359.0,455.0 359.0,456.0 359.0,457.0 360.0,457.0 360.0,458.0 360.0,459.0 361.0,459.0 361.0,460.0 362.0,460.0 362.0,461.0 362.0,462.0 363.0,462.0 363.0,463.0 364.0,463.0 364.0,464.0 365.0,464.0 366.0,464.0 368.0,464.0 368.0,465.0 369.0,465.0 370.0,465.0 371.0,465.0 372.0,465.0 373.0,465.0 374.0,465.0 375.0,465.0 376.0,465.0 376.0,466.0 376.0,465.0 377.0,465.0 377.0,466.0 378.0,466.0 379.0,466.0 380.0,466.0 381.0,466.0 382.0,466.0" fill="none" stroke="#0d0d0d" stroke-width="2.25" stroke-linejoin="miter" stroke-linecap="square"/>
<path d="M319.7 371.8 H409.4 V467.1" fill="none" stroke="#0d0d0d" stroke-width="1.2"/>
<path d="M319.1 467.1 H410.0" fill="none" stroke="#0d0d0d" stroke-width="1.7"/>
<path d="M319.7 371.1 V467.7" fill="none" stroke="#0d0d0d" stroke-width="1.5"/>
<path d="M319.7 466.90h-4.3M319.7 463.13h-2.5M319.7 459.37h-2.5M319.7 455.60h-2.5M319.7 451.84h-2.5M319.7 448.07h-4.3M319.7 444.30h-2.5M319.7 440.54h-2.5M319.7 436.77h-2.5M319.7 433.01h-2.5M319.7 429.24h-4.3M319.7 425.47h-2.5M319.7 421.71h-2.5M319.7 417.94h-2.5M319.7 414.18h-2.5M319.7 410.41h-4.3M319.7 406.64h-2.5M319.7 402.88h-2.5M319.7 399.11h-2.5M319.7 395.35h-2.5M319.7 391.58h-4.3M319.7 387.81h-2.5M319.7 384.05h-2.5M319.7 380.28h-2.5M319.7 376.52h-2.5M319.7 372.75h-4.3" stroke="#0d0d0d" stroke-width="1.1" fill="none"/>
<text x="377.9" y="389.3" font-size="10.6" textLength="22.3" lengthAdjust="spacing" stroke="#0d0d0d" stroke-width="0.12">55.0</text>
<text transform="translate(321.7 481.9) scale(0.9 1.08)" font-size="8.9" text-anchor="end" letter-spacing="-0.4" stroke="#0d0d0d" stroke-width="0.42" stroke-linejoin="round">10</text>
<text transform="translate(322.6 477.5) scale(0.88 1.08)" font-size="8.7" stroke="#0d0d0d" stroke-width="0.42" stroke-linejoin="round">0</text>
<text transform="translate(343.8 481.9) scale(0.9 1.08)" font-size="8.9" text-anchor="end" letter-spacing="-0.4" stroke="#0d0d0d" stroke-width="0.42" stroke-linejoin="round">10</text>
<text transform="translate(344.7 477.5) scale(0.88 1.08)" font-size="8.7" stroke="#0d0d0d" stroke-width="0.42" stroke-linejoin="round">1</text>
<text transform="translate(365.8 481.9) scale(0.9 1.08)" font-size="8.9" text-anchor="end" letter-spacing="-0.4" stroke="#0d0d0d" stroke-width="0.42" stroke-linejoin="round">10</text>
<text transform="translate(366.7 477.5) scale(0.88 1.08)" font-size="8.7" stroke="#0d0d0d" stroke-width="0.42" stroke-linejoin="round">2</text>
<text transform="translate(387.8 481.9) scale(0.9 1.08)" font-size="8.9" text-anchor="end" letter-spacing="-0.4" stroke="#0d0d0d" stroke-width="0.42" stroke-linejoin="round">10</text>
<text transform="translate(388.8 477.5) scale(0.88 1.08)" font-size="8.7" stroke="#0d0d0d" stroke-width="0.42" stroke-linejoin="round">3</text>
<text transform="translate(409.9 481.9) scale(0.9 1.08)" font-size="8.9" text-anchor="end" letter-spacing="-0.4" stroke="#0d0d0d" stroke-width="0.42" stroke-linejoin="round">10</text>
<text transform="translate(410.8 477.5) scale(0.88 1.08)" font-size="8.7" stroke="#0d0d0d" stroke-width="0.42" stroke-linejoin="round">4</text>
<path d="M320.00 467.1v4.9M342.05 467.1v4.9M364.10 467.1v4.9M386.15 467.1v4.9M408.20 467.1v4.9" stroke="#0d0d0d" stroke-width="1.3" fill="none"/>
<path d="M326.64 467.1v3.2M330.52 467.1v3.2M333.28 467.1v3.2M335.41 467.1v3.2M337.16 467.1v3.2M338.63 467.1v3.2M339.91 467.1v3.2M341.04 467.1v3.2M348.69 467.1v3.2M352.57 467.1v3.2M355.33 467.1v3.2M357.46 467.1v3.2M359.21 467.1v3.2M360.68 467.1v3.2M361.96 467.1v3.2M363.09 467.1v3.2M370.74 467.1v3.2M374.62 467.1v3.2M377.38 467.1v3.2M379.51 467.1v3.2M381.26 467.1v3.2M382.73 467.1v3.2M384.01 467.1v3.2M385.14 467.1v3.2M392.79 467.1v3.2M396.67 467.1v3.2M399.43 467.1v3.2M401.56 467.1v3.2M403.31 467.1v3.2M404.78 467.1v3.2M406.06 467.1v3.2M407.19 467.1v3.2" stroke="#0d0d0d" stroke-width="1.45" fill="none"/>
<text x="362.7" y="491.3" font-size="9.2" text-anchor="middle" letter-spacing="-0.35" stroke="#0d0d0d" stroke-width="0.42" stroke-linejoin="round">FL1-H</text>
</g>
<g transform="rotate(0.16 468.4 419.8)">
<clipPath id="c33"><rect x="423.4" y="371.6" width="90.5" height="97.1"/></clipPath>
<polyline clip-path="url(#c33)" points="426.1,463.3 429.2,454.2 432.2,444.1 434.6,431.9 436.7,421.7 438.3,412.6 439.9,409.6 442.3,412.6 444.4,421.7 446.4,433.9 448.4,446.1 451.5,454.2 455.5,458.2 459.6,461.3 463.6,463.9" fill="none" stroke="#262626" stroke-width="1.25" stroke-dasharray="1.2 2.8" stroke-opacity="1" stroke-linejoin="round"/>
<polyline clip-path="url(#c33)" points="427.0,466.0 427.0,465.0 428.0,465.0 428.0,466.0 429.0,466.0 430.0,466.0 430.0,465.0 431.0,465.0 432.0,465.0 433.0,465.0 434.0,465.0 435.0,465.0 436.0,465.0 436.0,464.0 437.0,464.0 437.0,463.0 438.0,463.0 439.0,463.0 439.0,462.0 440.0,462.0 440.0,461.0 441.0,461.0 441.0,459.0 441.0,457.0 441.0,456.0 442.0,456.0 442.0,455.0 442.0,454.0 443.0,454.0 443.0,453.0 443.0,452.0 444.0,452.0 445.0,452.0 445.0,451.0 445.0,450.0 446.0,450.0 446.0,449.0 446.0,448.0 447.0,448.0 447.0,447.0 447.0,446.0 447.0,445.0 448.0,445.0 448.0,444.0 447.0,444.0 448.0,444.0 448.0,443.0 448.0,442.0 448.0,441.0 449.0,441.0 449.0,440.0 449.0,439.0 449.0,438.0 449.0,437.0 449.0,436.0 449.0,435.0 449.0,434.0 449.0,433.0 450.0,433.0 450.0,432.0 450.0,430.0 450.0,429.0 450.0,428.0 451.0,428.0 451.0,427.0 452.0,427.0 452.0,426.0 452.0,425.0 452.0,423.0 452.0,421.0 453.0,421.0 453.0,419.0 453.0,418.0 453.0,417.0 453.0,416.0 453.0,415.0 453.0,414.0 453.0,413.0 454.0,413.0 454.0,412.0 454.0,410.0 454.0,412.0 454.0,413.0 455.0,413.0 455.0,415.0 455.0,416.0 455.0,417.0 455.0,419.0 455.0,420.0 457.0,420.0 457.0,421.0 457.0,423.0 458.0,423.0 458.0,424.0 459.0,424.0 459.0,425.0 459.0,427.0 459.0,428.0 459.0,429.0 459.0,430.0 460.0,430.0 460.0,431.0 461.0,431.0 461.0,432.0 461.0,434.0 461.0,435.0 462.0,435.0 462.0,436.0 462.0,437.0 462.0,438.0 463.0,438.0 463.0,439.0 463.0,440.0 463.0,441.0 463.0,442.0 464.0,442.0 464.0,443.0 464.0,444.0 464.0,445.0 465.0,445.0 465.0,446.0 465.0,447.0 465.0,448.0 466.0,448.0 466.0,449.0 466.0,450.0 466.0,451.0 467.0,451.0 467.0,452.0 467.0,453.0 468.0,453.0 468.0,454.0 469.0,454.0 469.0,455.0 469.0,457.0 469.0,458.0 470.0,458.0 470.0,460.0 470.0,461.0 471.0,461.0 471.0,462.0 472.0,462.0 472.0,464.0 473.0,464.0 474.0,464.0 474.0,465.0 475.0,465.0 476.0,465.0 476.0,466.0 477.0,466.0 478.0,466.0" fill="none" stroke="#0d0d0d" stroke-width="2.25" stroke-linejoin="miter" stroke-linecap="square"/>
<path d="M423.4 372.1 H513.4 V467.4" fill="none" stroke="#0d0d0d" stroke-width="1.2"/>
<path d="M422.8 467.4 H514.0" fill="none" stroke="#0d0d0d" stroke-width="1.7"/>
<path d="M423.4 371.5 V468.1" fill="none" stroke="#0d0d0d" stroke-width="1.5"/>
<path d="M423.4 467.25h-4.3M423.4 463.48h-2.5M423.4 459.72h-2.5M423.4 455.95h-2.5M423.4 452.19h-2.5M423.4 448.42h-4.3M423.4 444.65h-2.5M423.4 440.89h-2.5M423.4 437.12h-2.5M423.4 433.36h-2.5M423.4 429.59h-4.3M423.4 425.82h-2.5M423.4 422.06h-2.5M423.4 418.29h-2.5M423.4 414.53h-2.5M423.4 410.76h-4.3M423.4 406.99h-2.5M423.4 403.23h-2.5M423.4 399.46h-2.5M423.4 395.70h-2.5M423.4 391.93h-4.3M423.4 388.16h-2.5M423.4 384.40h-2.5M423.4 380.63h-2.5M423.4 376.87h-2.5M423.4 373.10h-4.3" stroke="#0d0d0d" stroke-width="1.1" fill="none"/>
<text x="480.5" y="389.3" font-size="10.6" textLength="22.7" lengthAdjust="spacing" stroke="#0d0d0d" stroke-width="0.12">60.0</text>
<text transform="translate(425.4 482.2) scale(0.9 1.08)" font-size="8.9" text-anchor="end" letter-spacing="-0.4" stroke="#0d0d0d" stroke-width="0.42" stroke-linejoin="round">10</text>
<text transform="translate(426.3 477.8) scale(0.88 1.08)" font-size="8.7" stroke="#0d0d0d" stroke-width="0.42" stroke-linejoin="round">0</text>
<text transform="translate(447.5 482.2) scale(0.9 1.08)" font-size="8.9" text-anchor="end" letter-spacing="-0.4" stroke="#0d0d0d" stroke-width="0.42" stroke-linejoin="round">10</text>
<text transform="translate(448.4 477.8) scale(0.88 1.08)" font-size="8.7" stroke="#0d0d0d" stroke-width="0.42" stroke-linejoin="round">1</text>
<text transform="translate(469.6 482.2) scale(0.9 1.08)" font-size="8.9" text-anchor="end" letter-spacing="-0.4" stroke="#0d0d0d" stroke-width="0.42" stroke-linejoin="round">10</text>
<text transform="translate(470.6 477.8) scale(0.88 1.08)" font-size="8.7" stroke="#0d0d0d" stroke-width="0.42" stroke-linejoin="round">2</text>
<text transform="translate(491.8 482.2) scale(0.9 1.08)" font-size="8.9" text-anchor="end" letter-spacing="-0.4" stroke="#0d0d0d" stroke-width="0.42" stroke-linejoin="round">10</text>
<text transform="translate(492.7 477.8) scale(0.88 1.08)" font-size="8.7" stroke="#0d0d0d" stroke-width="0.42" stroke-linejoin="round">3</text>
<text transform="translate(513.9 482.2) scale(0.9 1.08)" font-size="8.9" text-anchor="end" letter-spacing="-0.4" stroke="#0d0d0d" stroke-width="0.42" stroke-linejoin="round">10</text>
<text transform="translate(514.8 477.8) scale(0.88 1.08)" font-size="8.7" stroke="#0d0d0d" stroke-width="0.42" stroke-linejoin="round">4</text>
<path d="M423.70 467.4v4.9M445.82 467.4v4.9M467.95 467.4v4.9M490.07 467.4v4.9M512.20 467.4v4.9" stroke="#0d0d0d" stroke-width="1.3" fill="none"/>
<path d="M430.36 467.4v3.2M434.26 467.4v3.2M437.02 467.4v3.2M439.16 467.4v3.2M440.92 467.4v3.2M442.40 467.4v3.2M443.68 467.4v3.2M444.81 467.4v3.2M452.49 467.4v3.2M456.38 467.4v3.2M459.15 467.4v3.2M461.29 467.4v3.2M463.04 467.4v3.2M464.52 467.4v3.2M465.81 467.4v3.2M466.94 467.4v3.2M474.61 467.4v3.2M478.51 467.4v3.2M481.27 467.4v3.2M483.41 467.4v3.2M485.17 467.4v3.2M486.65 467.4v3.2M487.93 467.4v3.2M489.06 467.4v3.2M496.74 467.4v3.2M500.63 467.4v3.2M503.40 467.4v3.2M505.54 467.4v3.2M507.29 467.4v3.2M508.77 467.4v3.2M510.06 467.4v3.2M511.19 467.4v3.2" stroke="#0d0d0d" stroke-width="1.45" fill="none"/>
<text x="466.4" y="491.6" font-size="9.2" text-anchor="middle" letter-spacing="-0.35" stroke="#0d0d0d" stroke-width="0.42" stroke-linejoin="round">FL1-H</text>
</g>
</g>
</svg>
</body></html>
